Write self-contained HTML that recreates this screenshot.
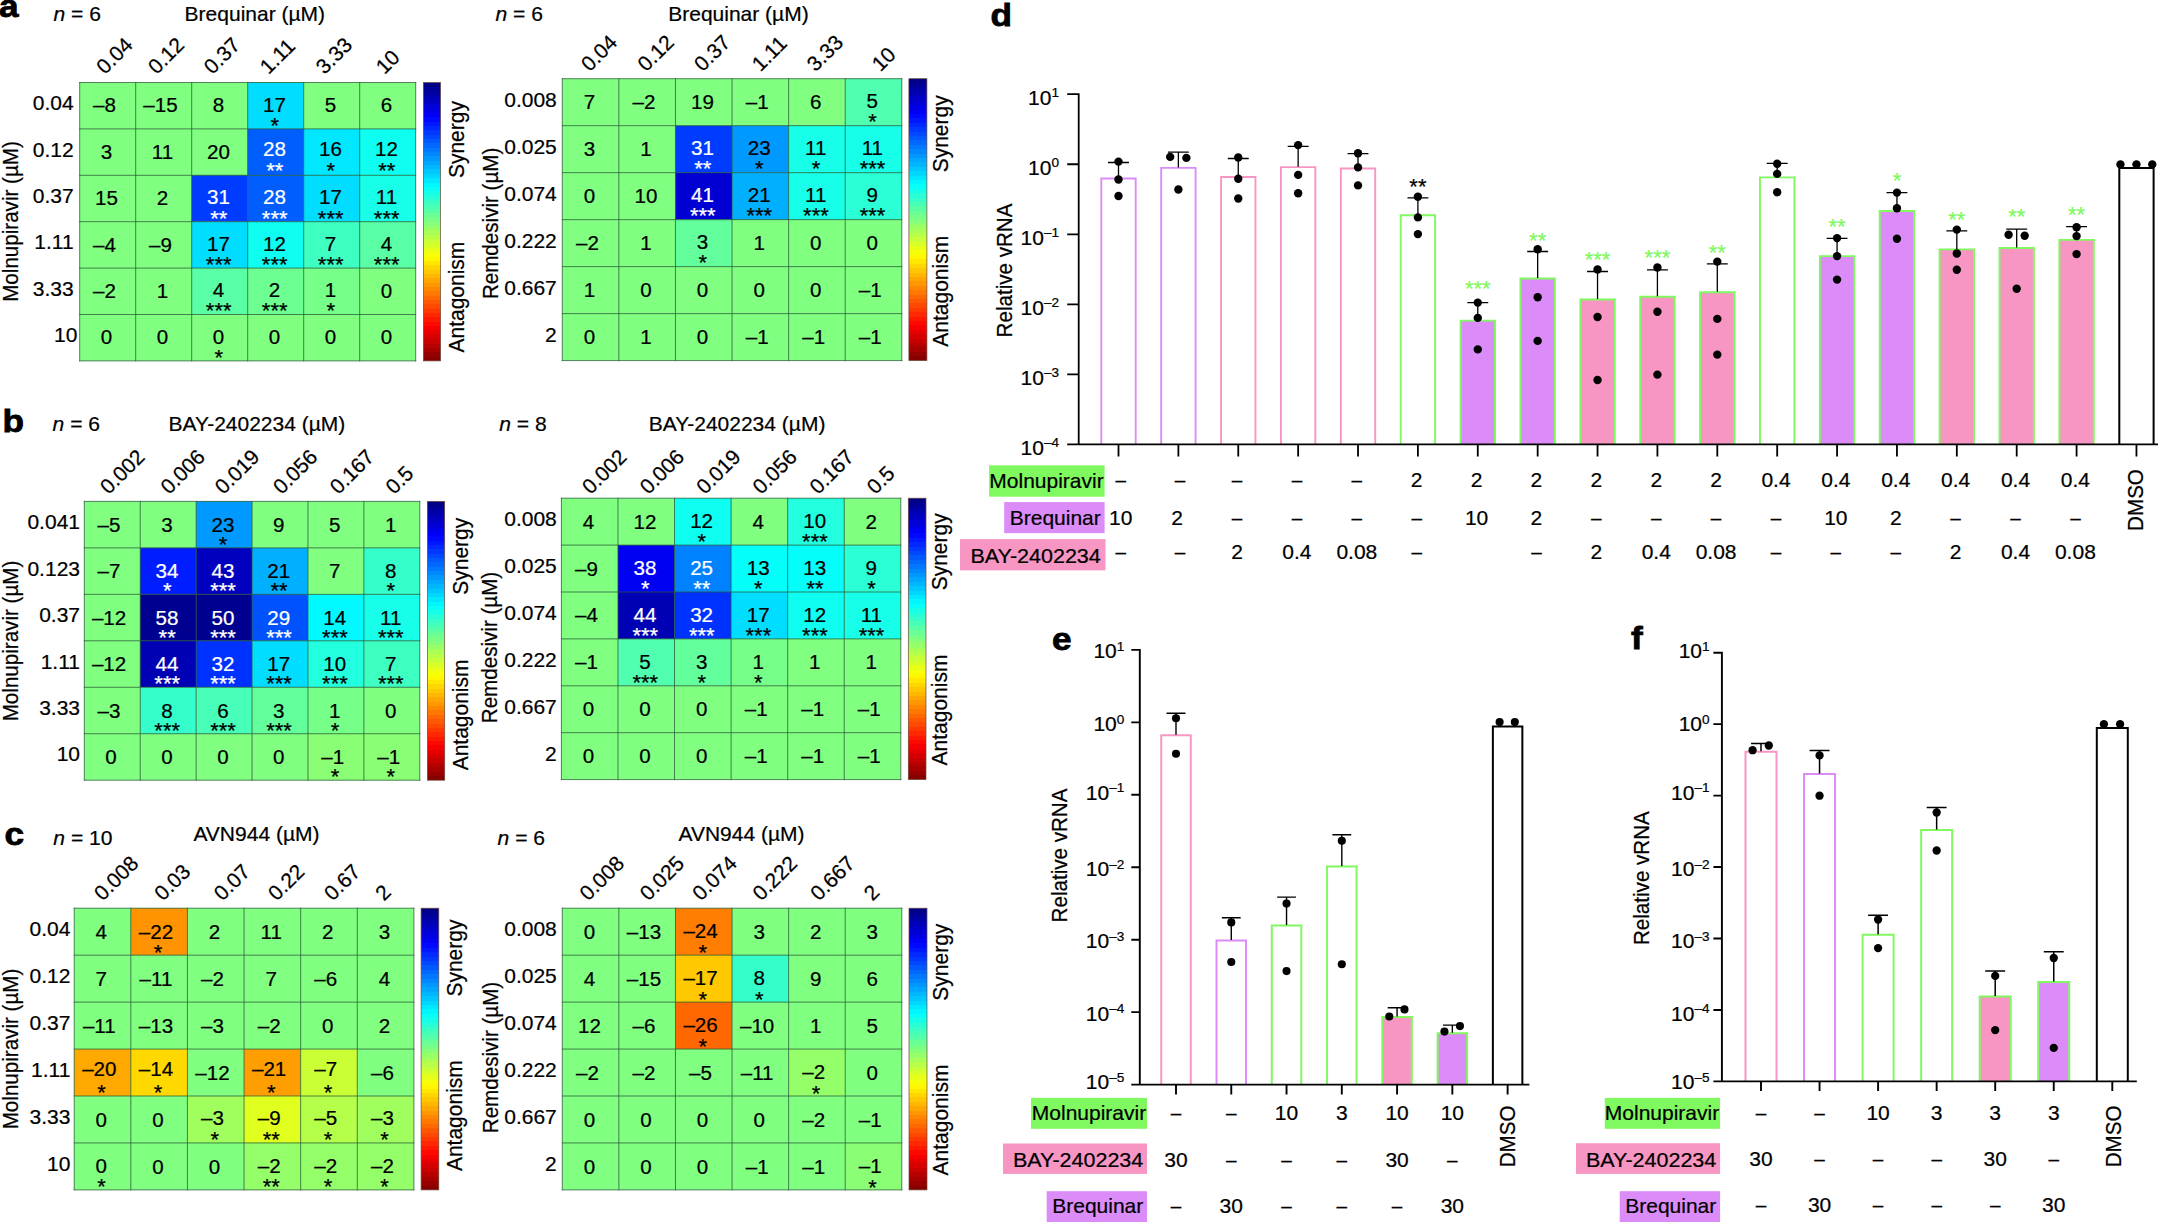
<!DOCTYPE html>
<html lang="en"><head><meta charset="utf-8"><title>Figure</title>
<style>html,body{margin:0;padding:0;background:#fff}svg{display:block}text{font-family:"Liberation Sans",sans-serif;stroke-width:0.22px}</style>
</head><body>
<svg width="2158" height="1222" viewBox="0 0 2158 1222">
<defs><linearGradient id="jet" x1="0" y1="0" x2="0" y2="1"><stop offset="0.0000" stop-color="#000087"/><stop offset="0.0156" stop-color="#000087"/><stop offset="0.0156" stop-color="#000097"/><stop offset="0.0312" stop-color="#000097"/><stop offset="0.0312" stop-color="#0000a7"/><stop offset="0.0469" stop-color="#0000a7"/><stop offset="0.0469" stop-color="#0000b7"/><stop offset="0.0625" stop-color="#0000b7"/><stop offset="0.0625" stop-color="#0000c7"/><stop offset="0.0781" stop-color="#0000c7"/><stop offset="0.0781" stop-color="#0000d7"/><stop offset="0.0938" stop-color="#0000d7"/><stop offset="0.0938" stop-color="#0000e7"/><stop offset="0.1094" stop-color="#0000e7"/><stop offset="0.1094" stop-color="#0000f7"/><stop offset="0.1250" stop-color="#0000f7"/><stop offset="0.1250" stop-color="#0008ff"/><stop offset="0.1406" stop-color="#0008ff"/><stop offset="0.1406" stop-color="#0018ff"/><stop offset="0.1562" stop-color="#0018ff"/><stop offset="0.1562" stop-color="#0028ff"/><stop offset="0.1719" stop-color="#0028ff"/><stop offset="0.1719" stop-color="#0038ff"/><stop offset="0.1875" stop-color="#0038ff"/><stop offset="0.1875" stop-color="#0048ff"/><stop offset="0.2031" stop-color="#0048ff"/><stop offset="0.2031" stop-color="#0058ff"/><stop offset="0.2188" stop-color="#0058ff"/><stop offset="0.2188" stop-color="#0068ff"/><stop offset="0.2344" stop-color="#0068ff"/><stop offset="0.2344" stop-color="#0078ff"/><stop offset="0.2500" stop-color="#0078ff"/><stop offset="0.2500" stop-color="#0087ff"/><stop offset="0.2656" stop-color="#0087ff"/><stop offset="0.2656" stop-color="#0097ff"/><stop offset="0.2812" stop-color="#0097ff"/><stop offset="0.2812" stop-color="#00a7ff"/><stop offset="0.2969" stop-color="#00a7ff"/><stop offset="0.2969" stop-color="#00b7ff"/><stop offset="0.3125" stop-color="#00b7ff"/><stop offset="0.3125" stop-color="#00c7ff"/><stop offset="0.3281" stop-color="#00c7ff"/><stop offset="0.3281" stop-color="#00d7ff"/><stop offset="0.3438" stop-color="#00d7ff"/><stop offset="0.3438" stop-color="#00e7ff"/><stop offset="0.3594" stop-color="#00e7ff"/><stop offset="0.3594" stop-color="#00f7ff"/><stop offset="0.3750" stop-color="#00f7ff"/><stop offset="0.3750" stop-color="#08fff7"/><stop offset="0.3906" stop-color="#08fff7"/><stop offset="0.3906" stop-color="#18ffe7"/><stop offset="0.4062" stop-color="#18ffe7"/><stop offset="0.4062" stop-color="#28ffd7"/><stop offset="0.4219" stop-color="#28ffd7"/><stop offset="0.4219" stop-color="#38ffc7"/><stop offset="0.4375" stop-color="#38ffc7"/><stop offset="0.4375" stop-color="#48ffb7"/><stop offset="0.4531" stop-color="#48ffb7"/><stop offset="0.4531" stop-color="#58ffa7"/><stop offset="0.4688" stop-color="#58ffa7"/><stop offset="0.4688" stop-color="#68ff97"/><stop offset="0.4844" stop-color="#68ff97"/><stop offset="0.4844" stop-color="#78ff87"/><stop offset="0.5000" stop-color="#78ff87"/><stop offset="0.5000" stop-color="#87ff78"/><stop offset="0.5156" stop-color="#87ff78"/><stop offset="0.5156" stop-color="#97ff68"/><stop offset="0.5312" stop-color="#97ff68"/><stop offset="0.5312" stop-color="#a7ff58"/><stop offset="0.5469" stop-color="#a7ff58"/><stop offset="0.5469" stop-color="#b7ff48"/><stop offset="0.5625" stop-color="#b7ff48"/><stop offset="0.5625" stop-color="#c7ff38"/><stop offset="0.5781" stop-color="#c7ff38"/><stop offset="0.5781" stop-color="#d7ff28"/><stop offset="0.5938" stop-color="#d7ff28"/><stop offset="0.5938" stop-color="#e7ff18"/><stop offset="0.6094" stop-color="#e7ff18"/><stop offset="0.6094" stop-color="#f7ff08"/><stop offset="0.6250" stop-color="#f7ff08"/><stop offset="0.6250" stop-color="#fff700"/><stop offset="0.6406" stop-color="#fff700"/><stop offset="0.6406" stop-color="#ffe700"/><stop offset="0.6562" stop-color="#ffe700"/><stop offset="0.6562" stop-color="#ffd700"/><stop offset="0.6719" stop-color="#ffd700"/><stop offset="0.6719" stop-color="#ffc700"/><stop offset="0.6875" stop-color="#ffc700"/><stop offset="0.6875" stop-color="#ffb700"/><stop offset="0.7031" stop-color="#ffb700"/><stop offset="0.7031" stop-color="#ffa700"/><stop offset="0.7188" stop-color="#ffa700"/><stop offset="0.7188" stop-color="#ff9700"/><stop offset="0.7344" stop-color="#ff9700"/><stop offset="0.7344" stop-color="#ff8700"/><stop offset="0.7500" stop-color="#ff8700"/><stop offset="0.7500" stop-color="#ff7800"/><stop offset="0.7656" stop-color="#ff7800"/><stop offset="0.7656" stop-color="#ff6800"/><stop offset="0.7812" stop-color="#ff6800"/><stop offset="0.7812" stop-color="#ff5800"/><stop offset="0.7969" stop-color="#ff5800"/><stop offset="0.7969" stop-color="#ff4800"/><stop offset="0.8125" stop-color="#ff4800"/><stop offset="0.8125" stop-color="#ff3800"/><stop offset="0.8281" stop-color="#ff3800"/><stop offset="0.8281" stop-color="#ff2800"/><stop offset="0.8438" stop-color="#ff2800"/><stop offset="0.8438" stop-color="#ff1800"/><stop offset="0.8594" stop-color="#ff1800"/><stop offset="0.8594" stop-color="#ff0800"/><stop offset="0.8750" stop-color="#ff0800"/><stop offset="0.8750" stop-color="#f70000"/><stop offset="0.8906" stop-color="#f70000"/><stop offset="0.8906" stop-color="#e70000"/><stop offset="0.9062" stop-color="#e70000"/><stop offset="0.9062" stop-color="#d70000"/><stop offset="0.9219" stop-color="#d70000"/><stop offset="0.9219" stop-color="#c70000"/><stop offset="0.9375" stop-color="#c70000"/><stop offset="0.9375" stop-color="#b70000"/><stop offset="0.9531" stop-color="#b70000"/><stop offset="0.9531" stop-color="#a70000"/><stop offset="0.9688" stop-color="#a70000"/><stop offset="0.9688" stop-color="#970000"/><stop offset="0.9844" stop-color="#970000"/><stop offset="0.9844" stop-color="#870000"/><stop offset="1.0000" stop-color="#870000"/></linearGradient></defs>
<rect width="2158" height="1222" fill="#fff"/>
<rect x="79.70" y="82.50" width="336.00" height="278.40" fill="#80ff80"/>
<rect x="247.70" y="82.50" width="56.00" height="46.40" fill="#00ddff"/>
<rect x="247.70" y="128.90" width="56.00" height="46.40" fill="#005eff"/>
<rect x="303.70" y="128.90" width="56.00" height="46.40" fill="#00e7ff"/>
<rect x="359.70" y="128.90" width="56.00" height="46.40" fill="#0efff1"/>
<rect x="191.70" y="175.30" width="56.00" height="46.40" fill="#003cff"/>
<rect x="247.70" y="175.30" width="56.00" height="46.40" fill="#005eff"/>
<rect x="303.70" y="175.30" width="56.00" height="46.40" fill="#00ddff"/>
<rect x="359.70" y="175.30" width="56.00" height="46.40" fill="#17ffe8"/>
<rect x="191.70" y="221.70" width="56.00" height="46.40" fill="#00ddff"/>
<rect x="247.70" y="221.70" width="56.00" height="46.40" fill="#0efff1"/>
<rect x="303.70" y="221.70" width="56.00" height="46.40" fill="#3dffc2"/>
<rect x="359.70" y="221.70" width="56.00" height="46.40" fill="#5affa5"/>
<rect x="191.70" y="268.10" width="56.00" height="46.40" fill="#5affa5"/>
<rect x="247.70" y="268.10" width="56.00" height="46.40" fill="#6dff92"/>
<rect x="303.70" y="268.10" width="56.00" height="46.40" fill="#76ff89"/>
<rect x="191.70" y="314.50" width="56.00" height="46.40" fill="#80ff80"/>
<path d="M79.70 82.50V360.90M79.70 82.50H415.70M135.70 82.50V360.90M79.70 128.90H415.70M191.70 82.50V360.90M79.70 175.30H415.70M247.70 82.50V360.90M79.70 221.70H415.70M303.70 82.50V360.90M79.70 268.10H415.70M359.70 82.50V360.90M79.70 314.50H415.70M415.70 82.50V360.90M79.70 360.90H415.70" stroke="#2c5a3a" stroke-width="0.9" fill="none" stroke-linecap="square" opacity="0.85"/>
<text transform="translate(104.50 112.30) scale(0.98 1.0)" font-size="21.0" text-anchor="middle" stroke="#000">–8</text>
<text transform="translate(160.50 112.30) scale(0.98 1.0)" font-size="21.0" text-anchor="middle" stroke="#000">–15</text>
<text transform="translate(218.50 112.30) scale(0.98 1.0)" font-size="21.0" text-anchor="middle" stroke="#000">8</text>
<text transform="translate(274.50 111.50) scale(0.98 1.0)" font-size="21.0" text-anchor="middle" stroke="#000">17</text>
<text transform="translate(274.70 132.80)" font-size="22.0" text-anchor="middle" stroke="#000">*</text>
<text transform="translate(330.50 112.30) scale(0.98 1.0)" font-size="21.0" text-anchor="middle" stroke="#000">5</text>
<text transform="translate(386.50 112.30) scale(0.98 1.0)" font-size="21.0" text-anchor="middle" stroke="#000">6</text>
<text transform="translate(106.50 158.70) scale(0.98 1.0)" font-size="21.0" text-anchor="middle" stroke="#000">3</text>
<text transform="translate(162.50 158.70) scale(0.98 1.0)" font-size="21.0" text-anchor="middle" stroke="#000">11</text>
<text transform="translate(218.50 158.70) scale(0.98 1.0)" font-size="21.0" text-anchor="middle" stroke="#000">20</text>
<text transform="translate(274.50 155.90) scale(0.98 1.0)" font-size="21.0" text-anchor="middle" fill="#fff" stroke="#fff">28</text>
<text transform="translate(274.70 178.40)" font-size="22.0" text-anchor="middle" fill="#fff" stroke="#fff">**</text>
<text transform="translate(330.50 155.90) scale(0.98 1.0)" font-size="21.0" text-anchor="middle" stroke="#000">16</text>
<text transform="translate(330.70 178.40)" font-size="22.0" text-anchor="middle" stroke="#000">*</text>
<text transform="translate(386.50 155.90) scale(0.98 1.0)" font-size="21.0" text-anchor="middle" stroke="#000">12</text>
<text transform="translate(386.70 178.40)" font-size="22.0" text-anchor="middle" stroke="#000">**</text>
<text transform="translate(106.50 205.10) scale(0.98 1.0)" font-size="21.0" text-anchor="middle" stroke="#000">15</text>
<text transform="translate(162.50 205.10) scale(0.98 1.0)" font-size="21.0" text-anchor="middle" stroke="#000">2</text>
<text transform="translate(218.50 204.30) scale(0.98 1.0)" font-size="21.0" text-anchor="middle" fill="#fff" stroke="#fff">31</text>
<text transform="translate(218.70 225.60)" font-size="22.0" text-anchor="middle" fill="#fff" stroke="#fff">**</text>
<text transform="translate(274.50 204.30) scale(0.98 1.0)" font-size="21.0" text-anchor="middle" fill="#fff" stroke="#fff">28</text>
<text transform="translate(274.70 225.60)" font-size="22.0" text-anchor="middle" fill="#fff" stroke="#fff">***</text>
<text transform="translate(330.50 204.30) scale(0.98 1.0)" font-size="21.0" text-anchor="middle" stroke="#000">17</text>
<text transform="translate(330.70 225.60)" font-size="22.0" text-anchor="middle" stroke="#000">***</text>
<text transform="translate(386.50 204.30) scale(0.98 1.0)" font-size="21.0" text-anchor="middle" stroke="#000">11</text>
<text transform="translate(386.70 225.60)" font-size="22.0" text-anchor="middle" stroke="#000">***</text>
<text transform="translate(104.50 251.50) scale(0.98 1.0)" font-size="21.0" text-anchor="middle" stroke="#000">–4</text>
<text transform="translate(160.50 251.50) scale(0.98 1.0)" font-size="21.0" text-anchor="middle" stroke="#000">–9</text>
<text transform="translate(218.50 250.70) scale(0.98 1.0)" font-size="21.0" text-anchor="middle" stroke="#000">17</text>
<text transform="translate(218.70 272.00)" font-size="22.0" text-anchor="middle" stroke="#000">***</text>
<text transform="translate(274.50 250.70) scale(0.98 1.0)" font-size="21.0" text-anchor="middle" stroke="#000">12</text>
<text transform="translate(274.70 272.00)" font-size="22.0" text-anchor="middle" stroke="#000">***</text>
<text transform="translate(330.50 250.70) scale(0.98 1.0)" font-size="21.0" text-anchor="middle" stroke="#000">7</text>
<text transform="translate(330.70 272.00)" font-size="22.0" text-anchor="middle" stroke="#000">***</text>
<text transform="translate(386.50 250.70) scale(0.98 1.0)" font-size="21.0" text-anchor="middle" stroke="#000">4</text>
<text transform="translate(386.70 272.00)" font-size="22.0" text-anchor="middle" stroke="#000">***</text>
<text transform="translate(104.50 297.90) scale(0.98 1.0)" font-size="21.0" text-anchor="middle" stroke="#000">–2</text>
<text transform="translate(162.50 297.90) scale(0.98 1.0)" font-size="21.0" text-anchor="middle" stroke="#000">1</text>
<text transform="translate(218.50 297.10) scale(0.98 1.0)" font-size="21.0" text-anchor="middle" stroke="#000">4</text>
<text transform="translate(218.70 318.40)" font-size="22.0" text-anchor="middle" stroke="#000">***</text>
<text transform="translate(274.50 297.10) scale(0.98 1.0)" font-size="21.0" text-anchor="middle" stroke="#000">2</text>
<text transform="translate(274.70 318.40)" font-size="22.0" text-anchor="middle" stroke="#000">***</text>
<text transform="translate(330.50 297.10) scale(0.98 1.0)" font-size="21.0" text-anchor="middle" stroke="#000">1</text>
<text transform="translate(330.70 318.40)" font-size="22.0" text-anchor="middle" stroke="#000">*</text>
<text transform="translate(386.50 297.90) scale(0.98 1.0)" font-size="21.0" text-anchor="middle" stroke="#000">0</text>
<text transform="translate(106.50 344.30) scale(0.98 1.0)" font-size="21.0" text-anchor="middle" stroke="#000">0</text>
<text transform="translate(162.50 344.30) scale(0.98 1.0)" font-size="21.0" text-anchor="middle" stroke="#000">0</text>
<text transform="translate(218.50 343.50) scale(0.98 1.0)" font-size="21.0" text-anchor="middle" stroke="#000">0</text>
<text transform="translate(218.70 364.80)" font-size="22.0" text-anchor="middle" stroke="#000">*</text>
<text transform="translate(274.50 344.30) scale(0.98 1.0)" font-size="21.0" text-anchor="middle" stroke="#000">0</text>
<text transform="translate(330.50 344.30) scale(0.98 1.0)" font-size="21.0" text-anchor="middle" stroke="#000">0</text>
<text transform="translate(386.50 344.30) scale(0.98 1.0)" font-size="21.0" text-anchor="middle" stroke="#000">0</text>
<text transform="translate(73.60 110.20)" font-size="21.0" text-anchor="end" stroke="#000">0.04</text>
<text transform="translate(73.60 156.60)" font-size="21.0" text-anchor="end" stroke="#000">0.12</text>
<text transform="translate(73.60 203.00)" font-size="21.0" text-anchor="end" stroke="#000">0.37</text>
<text transform="translate(73.60 249.40)" font-size="21.0" text-anchor="end" stroke="#000">1.11</text>
<text transform="translate(73.60 295.80)" font-size="21.0" text-anchor="end" stroke="#000">3.33</text>
<text transform="translate(77.40 342.20)" font-size="21.0" text-anchor="end" stroke="#000">10</text>
<text transform="translate(105.10 75.20) rotate(-45)" font-size="21.0" stroke="#000">0.04</text>
<text transform="translate(156.70 75.20) rotate(-45)" font-size="21.0" stroke="#000">0.12</text>
<text transform="translate(212.60 75.20) rotate(-45)" font-size="21.0" stroke="#000">0.37</text>
<text transform="translate(268.60 75.20) rotate(-45)" font-size="21.0" stroke="#000">1.11</text>
<text transform="translate(324.50 75.20) rotate(-45)" font-size="21.0" stroke="#000">3.33</text>
<text transform="translate(384.60 75.20) rotate(-45)" font-size="21.0" stroke="#000">10</text>
<text transform="translate(53.40 20.80) " font-size="21.1" stroke="#000"><tspan font-style="italic">n</tspan> = 6</text>
<text transform="translate(184.60 20.80)" font-size="21.0" stroke="#000">Brequinar (µM)</text>
<text transform="translate(18.30 221.50) rotate(-90) scale(1.0 1.1)" font-size="20.6" text-anchor="middle" stroke="#000">Molnupiravir (µM)</text>
<rect x="423.40" y="82.50" width="17.20" height="278.40" fill="url(#jet)" stroke="#6b4a3a" stroke-width="0.7"/>
<text transform="translate(463.50 139.55) rotate(-90) scale(1.0 1.08)" font-size="21.0" text-anchor="middle" stroke="#000">Synergy</text>
<text transform="translate(463.50 297.10) rotate(-90) scale(1.0 1.08)" font-size="21.0" text-anchor="middle" stroke="#000">Antagonism</text>
<rect x="562.30" y="78.70" width="339.50" height="281.90" fill="#80ff80"/>
<rect x="845.22" y="78.70" width="56.58" height="46.98" fill="#50ffaf"/>
<rect x="675.47" y="125.68" width="56.58" height="46.98" fill="#003cff"/>
<rect x="732.05" y="125.68" width="56.58" height="46.98" fill="#0099ff"/>
<rect x="788.63" y="125.68" width="56.58" height="46.98" fill="#17ffe8"/>
<rect x="845.22" y="125.68" width="56.58" height="46.98" fill="#17ffe8"/>
<rect x="675.47" y="172.67" width="56.58" height="46.98" fill="#0000d3"/>
<rect x="732.05" y="172.67" width="56.58" height="46.98" fill="#00b0ff"/>
<rect x="788.63" y="172.67" width="56.58" height="46.98" fill="#17ffe8"/>
<rect x="845.22" y="172.67" width="56.58" height="46.98" fill="#2affd5"/>
<rect x="675.47" y="219.65" width="56.58" height="46.98" fill="#63ff9c"/>
<path d="M562.30 78.70V360.60M562.30 78.70H901.80M618.88 78.70V360.60M562.30 125.68H901.80M675.47 78.70V360.60M562.30 172.67H901.80M732.05 78.70V360.60M562.30 219.65H901.80M788.63 78.70V360.60M562.30 266.63H901.80M845.22 78.70V360.60M562.30 313.62H901.80M901.80 78.70V360.60M562.30 360.60H901.80" stroke="#2c5a3a" stroke-width="0.9" fill="none" stroke-linecap="square" opacity="0.85"/>
<text transform="translate(589.39 109.09) scale(0.98 1.0)" font-size="21.0" text-anchor="middle" stroke="#000">7</text>
<text transform="translate(643.97 109.09) scale(0.98 1.0)" font-size="21.0" text-anchor="middle" stroke="#000">–2</text>
<text transform="translate(702.56 109.09) scale(0.98 1.0)" font-size="21.0" text-anchor="middle" stroke="#000">19</text>
<text transform="translate(757.14 109.09) scale(0.98 1.0)" font-size="21.0" text-anchor="middle" stroke="#000">–1</text>
<text transform="translate(815.72 109.09) scale(0.98 1.0)" font-size="21.0" text-anchor="middle" stroke="#000">6</text>
<text transform="translate(872.31 107.99) scale(0.98 1.0)" font-size="21.0" text-anchor="middle" stroke="#000">5</text>
<text transform="translate(872.51 129.29)" font-size="22.0" text-anchor="middle" stroke="#000">*</text>
<text transform="translate(589.39 156.08) scale(0.98 1.0)" font-size="21.0" text-anchor="middle" stroke="#000">3</text>
<text transform="translate(645.97 156.08) scale(0.98 1.0)" font-size="21.0" text-anchor="middle" stroke="#000">1</text>
<text transform="translate(702.56 154.98) scale(0.98 1.0)" font-size="21.0" text-anchor="middle" fill="#fff" stroke="#fff">31</text>
<text transform="translate(702.76 176.28)" font-size="22.0" text-anchor="middle" fill="#fff" stroke="#fff">**</text>
<text transform="translate(759.14 154.98) scale(0.98 1.0)" font-size="21.0" text-anchor="middle" stroke="#000">23</text>
<text transform="translate(759.34 176.28)" font-size="22.0" text-anchor="middle" stroke="#000">*</text>
<text transform="translate(815.72 154.98) scale(0.98 1.0)" font-size="21.0" text-anchor="middle" stroke="#000">11</text>
<text transform="translate(815.92 176.28)" font-size="22.0" text-anchor="middle" stroke="#000">*</text>
<text transform="translate(872.31 154.98) scale(0.98 1.0)" font-size="21.0" text-anchor="middle" stroke="#000">11</text>
<text transform="translate(872.51 176.28)" font-size="22.0" text-anchor="middle" stroke="#000">***</text>
<text transform="translate(589.39 203.06) scale(0.98 1.0)" font-size="21.0" text-anchor="middle" stroke="#000">0</text>
<text transform="translate(645.97 203.06) scale(0.98 1.0)" font-size="21.0" text-anchor="middle" stroke="#000">10</text>
<text transform="translate(702.56 201.96) scale(0.98 1.0)" font-size="21.0" text-anchor="middle" fill="#fff" stroke="#fff">41</text>
<text transform="translate(702.76 223.26)" font-size="22.0" text-anchor="middle" fill="#fff" stroke="#fff">***</text>
<text transform="translate(759.14 201.96) scale(0.98 1.0)" font-size="21.0" text-anchor="middle" stroke="#000">21</text>
<text transform="translate(759.34 223.26)" font-size="22.0" text-anchor="middle" stroke="#000">***</text>
<text transform="translate(815.72 201.96) scale(0.98 1.0)" font-size="21.0" text-anchor="middle" stroke="#000">11</text>
<text transform="translate(815.92 223.26)" font-size="22.0" text-anchor="middle" stroke="#000">***</text>
<text transform="translate(872.31 201.96) scale(0.98 1.0)" font-size="21.0" text-anchor="middle" stroke="#000">9</text>
<text transform="translate(872.51 223.26)" font-size="22.0" text-anchor="middle" stroke="#000">***</text>
<text transform="translate(587.39 250.04) scale(0.98 1.0)" font-size="21.0" text-anchor="middle" stroke="#000">–2</text>
<text transform="translate(645.97 250.04) scale(0.98 1.0)" font-size="21.0" text-anchor="middle" stroke="#000">1</text>
<text transform="translate(702.56 248.94) scale(0.98 1.0)" font-size="21.0" text-anchor="middle" stroke="#000">3</text>
<text transform="translate(702.76 270.24)" font-size="22.0" text-anchor="middle" stroke="#000">*</text>
<text transform="translate(759.14 250.04) scale(0.98 1.0)" font-size="21.0" text-anchor="middle" stroke="#000">1</text>
<text transform="translate(815.72 250.04) scale(0.98 1.0)" font-size="21.0" text-anchor="middle" stroke="#000">0</text>
<text transform="translate(872.31 250.04) scale(0.98 1.0)" font-size="21.0" text-anchor="middle" stroke="#000">0</text>
<text transform="translate(589.39 297.03) scale(0.98 1.0)" font-size="21.0" text-anchor="middle" stroke="#000">1</text>
<text transform="translate(645.97 297.03) scale(0.98 1.0)" font-size="21.0" text-anchor="middle" stroke="#000">0</text>
<text transform="translate(702.56 297.03) scale(0.98 1.0)" font-size="21.0" text-anchor="middle" stroke="#000">0</text>
<text transform="translate(759.14 297.03) scale(0.98 1.0)" font-size="21.0" text-anchor="middle" stroke="#000">0</text>
<text transform="translate(815.72 297.03) scale(0.98 1.0)" font-size="21.0" text-anchor="middle" stroke="#000">0</text>
<text transform="translate(870.31 297.03) scale(0.98 1.0)" font-size="21.0" text-anchor="middle" stroke="#000">–1</text>
<text transform="translate(589.39 344.01) scale(0.98 1.0)" font-size="21.0" text-anchor="middle" stroke="#000">0</text>
<text transform="translate(645.97 344.01) scale(0.98 1.0)" font-size="21.0" text-anchor="middle" stroke="#000">1</text>
<text transform="translate(702.56 344.01) scale(0.98 1.0)" font-size="21.0" text-anchor="middle" stroke="#000">0</text>
<text transform="translate(757.14 344.01) scale(0.98 1.0)" font-size="21.0" text-anchor="middle" stroke="#000">–1</text>
<text transform="translate(813.72 344.01) scale(0.98 1.0)" font-size="21.0" text-anchor="middle" stroke="#000">–1</text>
<text transform="translate(870.31 344.01) scale(0.98 1.0)" font-size="21.0" text-anchor="middle" stroke="#000">–1</text>
<text transform="translate(556.80 106.69)" font-size="21.0" text-anchor="end" stroke="#000">0.008</text>
<text transform="translate(556.80 153.68)" font-size="21.0" text-anchor="end" stroke="#000">0.025</text>
<text transform="translate(556.80 200.66)" font-size="21.0" text-anchor="end" stroke="#000">0.074</text>
<text transform="translate(556.80 247.64)" font-size="21.0" text-anchor="end" stroke="#000">0.222</text>
<text transform="translate(556.80 294.63)" font-size="21.0" text-anchor="end" stroke="#000">0.667</text>
<text transform="translate(556.80 341.61)" font-size="21.0" text-anchor="end" stroke="#000">2</text>
<text transform="translate(589.69 72.60) rotate(-45)" font-size="21.0" stroke="#000">0.04</text>
<text transform="translate(646.27 72.60) rotate(-45)" font-size="21.0" stroke="#000">0.12</text>
<text transform="translate(702.86 72.60) rotate(-45)" font-size="21.0" stroke="#000">0.37</text>
<text transform="translate(760.44 72.60) rotate(-45)" font-size="21.0" stroke="#000">1.11</text>
<text transform="translate(815.52 72.60) rotate(-45)" font-size="21.0" stroke="#000">3.33</text>
<text transform="translate(880.61 72.60) rotate(-45)" font-size="21.0" stroke="#000">10</text>
<text transform="translate(495.50 20.70) " font-size="21.1" stroke="#000"><tspan font-style="italic">n</tspan> = 6</text>
<text transform="translate(668.20 20.70)" font-size="21.0" stroke="#000">Brequinar (µM)</text>
<text transform="translate(497.50 223.40) rotate(-90) scale(1.0 1.1)" font-size="20.6" text-anchor="middle" stroke="#000">Remdesivir (µM)</text>
<rect x="908.90" y="78.70" width="18.00" height="281.90" fill="url(#jet)" stroke="#6b4a3a" stroke-width="0.7"/>
<text transform="translate(947.90 133.85) rotate(-90) scale(1.0 1.08)" font-size="21.0" text-anchor="middle" stroke="#000">Synergy</text>
<text transform="translate(947.90 291.25) rotate(-90) scale(1.0 1.08)" font-size="21.0" text-anchor="middle" stroke="#000">Antagonism</text>
<rect x="84.30" y="501.40" width="335.50" height="278.80" fill="#80ff80"/>
<rect x="196.13" y="501.40" width="55.92" height="46.47" fill="#0099ff"/>
<rect x="140.22" y="547.87" width="55.92" height="46.47" fill="#001dff"/>
<rect x="196.13" y="547.87" width="55.92" height="46.47" fill="#0000be"/>
<rect x="252.05" y="547.87" width="55.92" height="46.47" fill="#00b0ff"/>
<rect x="363.88" y="547.87" width="55.92" height="46.47" fill="#34ffcb"/>
<rect x="140.22" y="594.33" width="55.92" height="46.47" fill="#000090"/>
<rect x="196.13" y="594.33" width="55.92" height="46.47" fill="#000090"/>
<rect x="252.05" y="594.33" width="55.92" height="46.47" fill="#0052ff"/>
<rect x="307.97" y="594.33" width="55.92" height="46.47" fill="#00faff"/>
<rect x="363.88" y="594.33" width="55.92" height="46.47" fill="#17ffe8"/>
<rect x="140.22" y="640.80" width="55.92" height="46.47" fill="#0000b4"/>
<rect x="196.13" y="640.80" width="55.92" height="46.47" fill="#0032ff"/>
<rect x="252.05" y="640.80" width="55.92" height="46.47" fill="#00ddff"/>
<rect x="307.97" y="640.80" width="55.92" height="46.47" fill="#21ffde"/>
<rect x="363.88" y="640.80" width="55.92" height="46.47" fill="#3dffc2"/>
<rect x="140.22" y="687.27" width="55.92" height="46.47" fill="#34ffcb"/>
<rect x="196.13" y="687.27" width="55.92" height="46.47" fill="#47ffb8"/>
<rect x="252.05" y="687.27" width="55.92" height="46.47" fill="#63ff9c"/>
<rect x="307.97" y="687.27" width="55.92" height="46.47" fill="#76ff89"/>
<rect x="307.97" y="733.73" width="55.92" height="46.47" fill="#8aff75"/>
<rect x="363.88" y="733.73" width="55.92" height="46.47" fill="#8aff75"/>
<path d="M84.30 501.40V780.20M84.30 501.40H419.80M140.22 501.40V780.20M84.30 547.87H419.80M196.13 501.40V780.20M84.30 594.33H419.80M252.05 501.40V780.20M84.30 640.80H419.80M307.97 501.40V780.20M84.30 687.27H419.80M363.88 501.40V780.20M84.30 733.73H419.80M419.80 501.40V780.20M84.30 780.20H419.80" stroke="#2c5a3a" stroke-width="0.9" fill="none" stroke-linecap="square" opacity="0.85"/>
<text transform="translate(109.06 531.73) scale(0.98 1.0)" font-size="21.0" text-anchor="middle" stroke="#000">–5</text>
<text transform="translate(166.98 531.73) scale(0.98 1.0)" font-size="21.0" text-anchor="middle" stroke="#000">3</text>
<text transform="translate(222.89 531.63) scale(0.98 1.0)" font-size="21.0" text-anchor="middle" stroke="#000">23</text>
<text transform="translate(223.09 551.63)" font-size="22.0" text-anchor="middle" stroke="#000">*</text>
<text transform="translate(278.81 531.73) scale(0.98 1.0)" font-size="21.0" text-anchor="middle" stroke="#000">9</text>
<text transform="translate(334.73 531.73) scale(0.98 1.0)" font-size="21.0" text-anchor="middle" stroke="#000">5</text>
<text transform="translate(390.64 531.73) scale(0.98 1.0)" font-size="21.0" text-anchor="middle" stroke="#000">1</text>
<text transform="translate(109.06 578.20) scale(0.98 1.0)" font-size="21.0" text-anchor="middle" stroke="#000">–7</text>
<text transform="translate(166.98 578.10) scale(0.98 1.0)" font-size="21.0" text-anchor="middle" fill="#fff" stroke="#fff">34</text>
<text transform="translate(167.18 598.10)" font-size="22.0" text-anchor="middle" fill="#fff" stroke="#fff">*</text>
<text transform="translate(222.89 578.10) scale(0.98 1.0)" font-size="21.0" text-anchor="middle" fill="#fff" stroke="#fff">43</text>
<text transform="translate(223.09 598.10)" font-size="22.0" text-anchor="middle" fill="#fff" stroke="#fff">***</text>
<text transform="translate(278.81 578.10) scale(0.98 1.0)" font-size="21.0" text-anchor="middle" stroke="#000">21</text>
<text transform="translate(279.01 598.10)" font-size="22.0" text-anchor="middle" stroke="#000">**</text>
<text transform="translate(334.73 578.20) scale(0.98 1.0)" font-size="21.0" text-anchor="middle" stroke="#000">7</text>
<text transform="translate(390.64 578.10) scale(0.98 1.0)" font-size="21.0" text-anchor="middle" stroke="#000">8</text>
<text transform="translate(390.84 598.10)" font-size="22.0" text-anchor="middle" stroke="#000">*</text>
<text transform="translate(109.06 624.67) scale(0.98 1.0)" font-size="21.0" text-anchor="middle" stroke="#000">–12</text>
<text transform="translate(166.98 624.57) scale(0.98 1.0)" font-size="21.0" text-anchor="middle" fill="#fff" stroke="#fff">58</text>
<text transform="translate(167.18 644.57)" font-size="22.0" text-anchor="middle" fill="#fff" stroke="#fff">**</text>
<text transform="translate(222.89 624.57) scale(0.98 1.0)" font-size="21.0" text-anchor="middle" fill="#fff" stroke="#fff">50</text>
<text transform="translate(223.09 644.57)" font-size="22.0" text-anchor="middle" fill="#fff" stroke="#fff">***</text>
<text transform="translate(278.81 624.57) scale(0.98 1.0)" font-size="21.0" text-anchor="middle" fill="#fff" stroke="#fff">29</text>
<text transform="translate(279.01 644.57)" font-size="22.0" text-anchor="middle" fill="#fff" stroke="#fff">***</text>
<text transform="translate(334.73 624.57) scale(0.98 1.0)" font-size="21.0" text-anchor="middle" stroke="#000">14</text>
<text transform="translate(334.93 644.57)" font-size="22.0" text-anchor="middle" stroke="#000">***</text>
<text transform="translate(390.64 624.57) scale(0.98 1.0)" font-size="21.0" text-anchor="middle" stroke="#000">11</text>
<text transform="translate(390.84 644.57)" font-size="22.0" text-anchor="middle" stroke="#000">***</text>
<text transform="translate(109.06 671.13) scale(0.98 1.0)" font-size="21.0" text-anchor="middle" stroke="#000">–12</text>
<text transform="translate(166.98 671.03) scale(0.98 1.0)" font-size="21.0" text-anchor="middle" fill="#fff" stroke="#fff">44</text>
<text transform="translate(167.18 691.03)" font-size="22.0" text-anchor="middle" fill="#fff" stroke="#fff">***</text>
<text transform="translate(222.89 671.03) scale(0.98 1.0)" font-size="21.0" text-anchor="middle" fill="#fff" stroke="#fff">32</text>
<text transform="translate(223.09 691.03)" font-size="22.0" text-anchor="middle" fill="#fff" stroke="#fff">***</text>
<text transform="translate(278.81 671.03) scale(0.98 1.0)" font-size="21.0" text-anchor="middle" stroke="#000">17</text>
<text transform="translate(279.01 691.03)" font-size="22.0" text-anchor="middle" stroke="#000">***</text>
<text transform="translate(334.73 671.03) scale(0.98 1.0)" font-size="21.0" text-anchor="middle" stroke="#000">10</text>
<text transform="translate(334.93 691.03)" font-size="22.0" text-anchor="middle" stroke="#000">***</text>
<text transform="translate(390.64 671.03) scale(0.98 1.0)" font-size="21.0" text-anchor="middle" stroke="#000">7</text>
<text transform="translate(390.84 691.03)" font-size="22.0" text-anchor="middle" stroke="#000">***</text>
<text transform="translate(109.06 717.60) scale(0.98 1.0)" font-size="21.0" text-anchor="middle" stroke="#000">–3</text>
<text transform="translate(166.98 717.50) scale(0.98 1.0)" font-size="21.0" text-anchor="middle" stroke="#000">8</text>
<text transform="translate(167.18 737.50)" font-size="22.0" text-anchor="middle" stroke="#000">***</text>
<text transform="translate(222.89 717.50) scale(0.98 1.0)" font-size="21.0" text-anchor="middle" stroke="#000">6</text>
<text transform="translate(223.09 737.50)" font-size="22.0" text-anchor="middle" stroke="#000">***</text>
<text transform="translate(278.81 717.50) scale(0.98 1.0)" font-size="21.0" text-anchor="middle" stroke="#000">3</text>
<text transform="translate(279.01 737.50)" font-size="22.0" text-anchor="middle" stroke="#000">***</text>
<text transform="translate(334.73 717.50) scale(0.98 1.0)" font-size="21.0" text-anchor="middle" stroke="#000">1</text>
<text transform="translate(334.93 737.50)" font-size="22.0" text-anchor="middle" stroke="#000">*</text>
<text transform="translate(390.64 717.60) scale(0.98 1.0)" font-size="21.0" text-anchor="middle" stroke="#000">0</text>
<text transform="translate(111.06 764.07) scale(0.98 1.0)" font-size="21.0" text-anchor="middle" stroke="#000">0</text>
<text transform="translate(166.98 764.07) scale(0.98 1.0)" font-size="21.0" text-anchor="middle" stroke="#000">0</text>
<text transform="translate(222.89 764.07) scale(0.98 1.0)" font-size="21.0" text-anchor="middle" stroke="#000">0</text>
<text transform="translate(278.81 764.07) scale(0.98 1.0)" font-size="21.0" text-anchor="middle" stroke="#000">0</text>
<text transform="translate(332.73 763.97) scale(0.98 1.0)" font-size="21.0" text-anchor="middle" stroke="#000">–1</text>
<text transform="translate(334.93 783.97)" font-size="22.0" text-anchor="middle" stroke="#000">*</text>
<text transform="translate(388.64 763.97) scale(0.98 1.0)" font-size="21.0" text-anchor="middle" stroke="#000">–1</text>
<text transform="translate(390.84 783.97)" font-size="22.0" text-anchor="middle" stroke="#000">*</text>
<text transform="translate(80.00 529.13)" font-size="21.0" text-anchor="end" stroke="#000">0.041</text>
<text transform="translate(80.00 575.60)" font-size="21.0" text-anchor="end" stroke="#000">0.123</text>
<text transform="translate(80.00 622.07)" font-size="21.0" text-anchor="end" stroke="#000">0.37</text>
<text transform="translate(80.00 668.53)" font-size="21.0" text-anchor="end" stroke="#000">1.11</text>
<text transform="translate(80.00 715.00)" font-size="21.0" text-anchor="end" stroke="#000">3.33</text>
<text transform="translate(80.00 761.47)" font-size="21.0" text-anchor="end" stroke="#000">10</text>
<text transform="translate(108.86 495.30) rotate(-45)" font-size="21.0" stroke="#000">0.002</text>
<text transform="translate(169.18 495.30) rotate(-45)" font-size="21.0" stroke="#000">0.006</text>
<text transform="translate(223.59 495.30) rotate(-45)" font-size="21.0" stroke="#000">0.019</text>
<text transform="translate(281.71 495.30) rotate(-45)" font-size="21.0" stroke="#000">0.056</text>
<text transform="translate(338.43 495.30) rotate(-45)" font-size="21.0" stroke="#000">0.167</text>
<text transform="translate(394.14 495.30) rotate(-45)" font-size="21.0" stroke="#000">0.5</text>
<text transform="translate(52.60 430.70) " font-size="21.1" stroke="#000"><tspan font-style="italic">n</tspan> = 6</text>
<text transform="translate(168.60 430.70)" font-size="21.0" stroke="#000">BAY-2402234 (µM)</text>
<text transform="translate(18.30 641.00) rotate(-90) scale(1.0 1.1)" font-size="20.6" text-anchor="middle" stroke="#000">Molnupiravir (µM)</text>
<rect x="427.40" y="501.40" width="17.30" height="278.80" fill="url(#jet)" stroke="#6b4a3a" stroke-width="0.7"/>
<text transform="translate(467.90 556.25) rotate(-90) scale(1.0 1.08)" font-size="21.0" text-anchor="middle" stroke="#000">Synergy</text>
<text transform="translate(467.90 714.95) rotate(-90) scale(1.0 1.08)" font-size="21.0" text-anchor="middle" stroke="#000">Antagonism</text>
<rect x="561.40" y="498.20" width="339.40" height="281.40" fill="#80ff80"/>
<rect x="674.53" y="498.20" width="56.57" height="46.90" fill="#0efff1"/>
<rect x="787.67" y="498.20" width="56.57" height="46.90" fill="#21ffde"/>
<rect x="617.97" y="545.10" width="56.57" height="46.90" fill="#0000f2"/>
<rect x="674.53" y="545.10" width="56.57" height="46.90" fill="#0081ff"/>
<rect x="731.10" y="545.10" width="56.57" height="46.90" fill="#04fffb"/>
<rect x="787.67" y="545.10" width="56.57" height="46.90" fill="#04fffb"/>
<rect x="844.23" y="545.10" width="56.57" height="46.90" fill="#2affd5"/>
<rect x="617.97" y="592.00" width="56.57" height="46.90" fill="#0000b4"/>
<rect x="674.53" y="592.00" width="56.57" height="46.90" fill="#0032ff"/>
<rect x="731.10" y="592.00" width="56.57" height="46.90" fill="#00ddff"/>
<rect x="787.67" y="592.00" width="56.57" height="46.90" fill="#0efff1"/>
<rect x="844.23" y="592.00" width="56.57" height="46.90" fill="#17ffe8"/>
<rect x="617.97" y="638.90" width="56.57" height="46.90" fill="#50ffaf"/>
<rect x="674.53" y="638.90" width="56.57" height="46.90" fill="#63ff9c"/>
<rect x="731.10" y="638.90" width="56.57" height="46.90" fill="#76ff89"/>
<path d="M561.40 498.20V779.60M561.40 498.20H900.80M617.97 498.20V779.60M561.40 545.10H900.80M674.53 498.20V779.60M561.40 592.00H900.80M731.10 498.20V779.60M561.40 638.90H900.80M787.67 498.20V779.60M561.40 685.80H900.80M844.23 498.20V779.60M561.40 732.70H900.80M900.80 498.20V779.60M561.40 779.60H900.80" stroke="#2c5a3a" stroke-width="0.9" fill="none" stroke-linecap="square" opacity="0.85"/>
<text transform="translate(588.48 528.65) scale(0.98 1.0)" font-size="21.0" text-anchor="middle" stroke="#000">4</text>
<text transform="translate(645.05 528.65) scale(0.98 1.0)" font-size="21.0" text-anchor="middle" stroke="#000">12</text>
<text transform="translate(701.62 528.45) scale(0.98 1.0)" font-size="21.0" text-anchor="middle" stroke="#000">12</text>
<text transform="translate(701.82 549.15)" font-size="22.0" text-anchor="middle" stroke="#000">*</text>
<text transform="translate(758.18 528.65) scale(0.98 1.0)" font-size="21.0" text-anchor="middle" stroke="#000">4</text>
<text transform="translate(814.75 528.45) scale(0.98 1.0)" font-size="21.0" text-anchor="middle" stroke="#000">10</text>
<text transform="translate(814.95 549.15)" font-size="22.0" text-anchor="middle" stroke="#000">***</text>
<text transform="translate(871.32 528.65) scale(0.98 1.0)" font-size="21.0" text-anchor="middle" stroke="#000">2</text>
<text transform="translate(586.48 575.55) scale(0.98 1.0)" font-size="21.0" text-anchor="middle" stroke="#000">–9</text>
<text transform="translate(645.05 575.35) scale(0.98 1.0)" font-size="21.0" text-anchor="middle" fill="#fff" stroke="#fff">38</text>
<text transform="translate(645.25 596.05)" font-size="22.0" text-anchor="middle" fill="#fff" stroke="#fff">*</text>
<text transform="translate(701.62 575.35) scale(0.98 1.0)" font-size="21.0" text-anchor="middle" fill="#fff" stroke="#fff">25</text>
<text transform="translate(701.82 596.05)" font-size="22.0" text-anchor="middle" fill="#fff" stroke="#fff">**</text>
<text transform="translate(758.18 575.35) scale(0.98 1.0)" font-size="21.0" text-anchor="middle" stroke="#000">13</text>
<text transform="translate(758.38 596.05)" font-size="22.0" text-anchor="middle" stroke="#000">*</text>
<text transform="translate(814.75 575.35) scale(0.98 1.0)" font-size="21.0" text-anchor="middle" stroke="#000">13</text>
<text transform="translate(814.95 596.05)" font-size="22.0" text-anchor="middle" stroke="#000">**</text>
<text transform="translate(871.32 575.35) scale(0.98 1.0)" font-size="21.0" text-anchor="middle" stroke="#000">9</text>
<text transform="translate(871.52 596.05)" font-size="22.0" text-anchor="middle" stroke="#000">*</text>
<text transform="translate(586.48 622.45) scale(0.98 1.0)" font-size="21.0" text-anchor="middle" stroke="#000">–4</text>
<text transform="translate(645.05 622.25) scale(0.98 1.0)" font-size="21.0" text-anchor="middle" fill="#fff" stroke="#fff">44</text>
<text transform="translate(645.25 642.95)" font-size="22.0" text-anchor="middle" fill="#fff" stroke="#fff">***</text>
<text transform="translate(701.62 622.25) scale(0.98 1.0)" font-size="21.0" text-anchor="middle" fill="#fff" stroke="#fff">32</text>
<text transform="translate(701.82 642.95)" font-size="22.0" text-anchor="middle" fill="#fff" stroke="#fff">***</text>
<text transform="translate(758.18 622.25) scale(0.98 1.0)" font-size="21.0" text-anchor="middle" stroke="#000">17</text>
<text transform="translate(758.38 642.95)" font-size="22.0" text-anchor="middle" stroke="#000">***</text>
<text transform="translate(814.75 622.25) scale(0.98 1.0)" font-size="21.0" text-anchor="middle" stroke="#000">12</text>
<text transform="translate(814.95 642.95)" font-size="22.0" text-anchor="middle" stroke="#000">***</text>
<text transform="translate(871.32 622.25) scale(0.98 1.0)" font-size="21.0" text-anchor="middle" stroke="#000">11</text>
<text transform="translate(871.52 642.95)" font-size="22.0" text-anchor="middle" stroke="#000">***</text>
<text transform="translate(586.48 669.35) scale(0.98 1.0)" font-size="21.0" text-anchor="middle" stroke="#000">–1</text>
<text transform="translate(645.05 669.15) scale(0.98 1.0)" font-size="21.0" text-anchor="middle" stroke="#000">5</text>
<text transform="translate(645.25 689.85)" font-size="22.0" text-anchor="middle" stroke="#000">***</text>
<text transform="translate(701.62 669.15) scale(0.98 1.0)" font-size="21.0" text-anchor="middle" stroke="#000">3</text>
<text transform="translate(701.82 689.85)" font-size="22.0" text-anchor="middle" stroke="#000">*</text>
<text transform="translate(758.18 669.15) scale(0.98 1.0)" font-size="21.0" text-anchor="middle" stroke="#000">1</text>
<text transform="translate(758.38 689.85)" font-size="22.0" text-anchor="middle" stroke="#000">*</text>
<text transform="translate(814.75 669.35) scale(0.98 1.0)" font-size="21.0" text-anchor="middle" stroke="#000">1</text>
<text transform="translate(871.32 669.35) scale(0.98 1.0)" font-size="21.0" text-anchor="middle" stroke="#000">1</text>
<text transform="translate(588.48 716.25) scale(0.98 1.0)" font-size="21.0" text-anchor="middle" stroke="#000">0</text>
<text transform="translate(645.05 716.25) scale(0.98 1.0)" font-size="21.0" text-anchor="middle" stroke="#000">0</text>
<text transform="translate(701.62 716.25) scale(0.98 1.0)" font-size="21.0" text-anchor="middle" stroke="#000">0</text>
<text transform="translate(756.18 716.25) scale(0.98 1.0)" font-size="21.0" text-anchor="middle" stroke="#000">–1</text>
<text transform="translate(812.75 716.25) scale(0.98 1.0)" font-size="21.0" text-anchor="middle" stroke="#000">–1</text>
<text transform="translate(869.32 716.25) scale(0.98 1.0)" font-size="21.0" text-anchor="middle" stroke="#000">–1</text>
<text transform="translate(588.48 763.15) scale(0.98 1.0)" font-size="21.0" text-anchor="middle" stroke="#000">0</text>
<text transform="translate(645.05 763.15) scale(0.98 1.0)" font-size="21.0" text-anchor="middle" stroke="#000">0</text>
<text transform="translate(701.62 763.15) scale(0.98 1.0)" font-size="21.0" text-anchor="middle" stroke="#000">0</text>
<text transform="translate(756.18 763.15) scale(0.98 1.0)" font-size="21.0" text-anchor="middle" stroke="#000">–1</text>
<text transform="translate(812.75 763.15) scale(0.98 1.0)" font-size="21.0" text-anchor="middle" stroke="#000">–1</text>
<text transform="translate(869.32 763.15) scale(0.98 1.0)" font-size="21.0" text-anchor="middle" stroke="#000">–1</text>
<text transform="translate(556.80 526.15)" font-size="21.0" text-anchor="end" stroke="#000">0.008</text>
<text transform="translate(556.80 573.05)" font-size="21.0" text-anchor="end" stroke="#000">0.025</text>
<text transform="translate(556.80 619.95)" font-size="21.0" text-anchor="end" stroke="#000">0.074</text>
<text transform="translate(556.80 666.85)" font-size="21.0" text-anchor="end" stroke="#000">0.222</text>
<text transform="translate(556.80 713.75)" font-size="21.0" text-anchor="end" stroke="#000">0.667</text>
<text transform="translate(556.80 760.65)" font-size="21.0" text-anchor="end" stroke="#000">2</text>
<text transform="translate(590.78 495.30) rotate(-45)" font-size="21.0" stroke="#000">0.002</text>
<text transform="translate(648.45 495.30) rotate(-45)" font-size="21.0" stroke="#000">0.006</text>
<text transform="translate(704.92 495.30) rotate(-45)" font-size="21.0" stroke="#000">0.019</text>
<text transform="translate(761.18 495.30) rotate(-45)" font-size="21.0" stroke="#000">0.056</text>
<text transform="translate(818.15 495.30) rotate(-45)" font-size="21.0" stroke="#000">0.167</text>
<text transform="translate(875.42 495.30) rotate(-45)" font-size="21.0" stroke="#000">0.5</text>
<text transform="translate(499.20 430.70) " font-size="21.1" stroke="#000"><tspan font-style="italic">n</tspan> = 8</text>
<text transform="translate(648.70 430.70)" font-size="21.0" stroke="#000">BAY-2402234 (µM)</text>
<text transform="translate(497.10 647.50) rotate(-90) scale(1.0 1.1)" font-size="20.6" text-anchor="middle" stroke="#000">Remdesivir (µM)</text>
<rect x="908.30" y="498.20" width="17.70" height="281.40" fill="url(#jet)" stroke="#6b4a3a" stroke-width="0.7"/>
<text transform="translate(947.00 551.80) rotate(-90) scale(1.0 1.08)" font-size="21.0" text-anchor="middle" stroke="#000">Synergy</text>
<text transform="translate(947.00 710.05) rotate(-90) scale(1.0 1.08)" font-size="21.0" text-anchor="middle" stroke="#000">Antagonism</text>
<rect x="74.20" y="908.20" width="339.70" height="281.70" fill="#80ff80"/>
<rect x="130.82" y="908.20" width="56.62" height="46.95" fill="#ff9300"/>
<rect x="74.20" y="1049.05" width="56.62" height="46.95" fill="#ffa800"/>
<rect x="130.82" y="1049.05" width="56.62" height="46.95" fill="#ffd800"/>
<rect x="244.05" y="1049.05" width="56.62" height="46.95" fill="#ff9e00"/>
<rect x="300.67" y="1049.05" width="56.62" height="46.95" fill="#caff35"/>
<rect x="187.43" y="1096.00" width="56.62" height="46.95" fill="#a0ff5f"/>
<rect x="244.05" y="1096.00" width="56.62" height="46.95" fill="#e0ff1f"/>
<rect x="300.67" y="1096.00" width="56.62" height="46.95" fill="#b5ff4a"/>
<rect x="357.28" y="1096.00" width="56.62" height="46.95" fill="#a0ff5f"/>
<rect x="74.20" y="1142.95" width="56.62" height="46.95" fill="#80ff80"/>
<rect x="244.05" y="1142.95" width="56.62" height="46.95" fill="#95ff6a"/>
<rect x="300.67" y="1142.95" width="56.62" height="46.95" fill="#95ff6a"/>
<rect x="357.28" y="1142.95" width="56.62" height="46.95" fill="#95ff6a"/>
<path d="M74.20 908.20V1189.90M74.20 908.20H413.90M130.82 908.20V1189.90M74.20 955.15H413.90M187.43 908.20V1189.90M74.20 1002.10H413.90M244.05 908.20V1189.90M74.20 1049.05H413.90M300.67 908.20V1189.90M74.20 1096.00H413.90M357.28 908.20V1189.90M74.20 1142.95H413.90M413.90 908.20V1189.90M74.20 1189.90H413.90" stroke="#2c5a3a" stroke-width="0.9" fill="none" stroke-linecap="square" opacity="0.85"/>
<text transform="translate(101.31 938.88) scale(0.98 1.0)" font-size="21.0" text-anchor="middle" stroke="#000">4</text>
<text transform="translate(155.93 938.77) scale(0.98 1.0)" font-size="21.0" text-anchor="middle" stroke="#000">–22</text>
<text transform="translate(158.12 959.58)" font-size="22.0" text-anchor="middle" stroke="#000">*</text>
<text transform="translate(214.54 938.88) scale(0.98 1.0)" font-size="21.0" text-anchor="middle" stroke="#000">2</text>
<text transform="translate(271.16 938.88) scale(0.98 1.0)" font-size="21.0" text-anchor="middle" stroke="#000">11</text>
<text transform="translate(327.78 938.88) scale(0.98 1.0)" font-size="21.0" text-anchor="middle" stroke="#000">2</text>
<text transform="translate(384.39 938.88) scale(0.98 1.0)" font-size="21.0" text-anchor="middle" stroke="#000">3</text>
<text transform="translate(101.31 985.83) scale(0.98 1.0)" font-size="21.0" text-anchor="middle" stroke="#000">7</text>
<text transform="translate(155.93 985.83) scale(0.98 1.0)" font-size="21.0" text-anchor="middle" stroke="#000">–11</text>
<text transform="translate(212.54 985.83) scale(0.98 1.0)" font-size="21.0" text-anchor="middle" stroke="#000">–2</text>
<text transform="translate(271.16 985.83) scale(0.98 1.0)" font-size="21.0" text-anchor="middle" stroke="#000">7</text>
<text transform="translate(325.78 985.83) scale(0.98 1.0)" font-size="21.0" text-anchor="middle" stroke="#000">–6</text>
<text transform="translate(384.39 985.83) scale(0.98 1.0)" font-size="21.0" text-anchor="middle" stroke="#000">4</text>
<text transform="translate(99.31 1032.78) scale(0.98 1.0)" font-size="21.0" text-anchor="middle" stroke="#000">–11</text>
<text transform="translate(155.93 1032.78) scale(0.98 1.0)" font-size="21.0" text-anchor="middle" stroke="#000">–13</text>
<text transform="translate(212.54 1032.78) scale(0.98 1.0)" font-size="21.0" text-anchor="middle" stroke="#000">–3</text>
<text transform="translate(269.16 1032.78) scale(0.98 1.0)" font-size="21.0" text-anchor="middle" stroke="#000">–2</text>
<text transform="translate(327.78 1032.78) scale(0.98 1.0)" font-size="21.0" text-anchor="middle" stroke="#000">0</text>
<text transform="translate(384.39 1032.78) scale(0.98 1.0)" font-size="21.0" text-anchor="middle" stroke="#000">2</text>
<text transform="translate(99.31 1076.33) scale(0.98 1.0)" font-size="21.0" text-anchor="middle" stroke="#000">–20</text>
<text transform="translate(101.51 1100.43)" font-size="22.0" text-anchor="middle" stroke="#000">*</text>
<text transform="translate(155.93 1076.33) scale(0.98 1.0)" font-size="21.0" text-anchor="middle" stroke="#000">–14</text>
<text transform="translate(158.12 1100.43)" font-size="22.0" text-anchor="middle" stroke="#000">*</text>
<text transform="translate(212.54 1079.73) scale(0.98 1.0)" font-size="21.0" text-anchor="middle" stroke="#000">–12</text>
<text transform="translate(269.16 1076.33) scale(0.98 1.0)" font-size="21.0" text-anchor="middle" stroke="#000">–21</text>
<text transform="translate(271.36 1100.43)" font-size="22.0" text-anchor="middle" stroke="#000">*</text>
<text transform="translate(325.78 1076.33) scale(0.98 1.0)" font-size="21.0" text-anchor="middle" stroke="#000">–7</text>
<text transform="translate(327.98 1100.43)" font-size="22.0" text-anchor="middle" stroke="#000">*</text>
<text transform="translate(382.39 1079.73) scale(0.98 1.0)" font-size="21.0" text-anchor="middle" stroke="#000">–6</text>
<text transform="translate(101.31 1126.68) scale(0.98 1.0)" font-size="21.0" text-anchor="middle" stroke="#000">0</text>
<text transform="translate(157.93 1126.68) scale(0.98 1.0)" font-size="21.0" text-anchor="middle" stroke="#000">0</text>
<text transform="translate(212.54 1125.28) scale(0.98 1.0)" font-size="21.0" text-anchor="middle" stroke="#000">–3</text>
<text transform="translate(214.74 1147.38)" font-size="22.0" text-anchor="middle" stroke="#000">*</text>
<text transform="translate(269.16 1125.28) scale(0.98 1.0)" font-size="21.0" text-anchor="middle" stroke="#000">–9</text>
<text transform="translate(271.36 1147.38)" font-size="22.0" text-anchor="middle" stroke="#000">**</text>
<text transform="translate(325.78 1125.28) scale(0.98 1.0)" font-size="21.0" text-anchor="middle" stroke="#000">–5</text>
<text transform="translate(327.98 1147.38)" font-size="22.0" text-anchor="middle" stroke="#000">*</text>
<text transform="translate(382.39 1125.28) scale(0.98 1.0)" font-size="21.0" text-anchor="middle" stroke="#000">–3</text>
<text transform="translate(384.59 1147.38)" font-size="22.0" text-anchor="middle" stroke="#000">*</text>
<text transform="translate(101.31 1172.53) scale(0.98 1.0)" font-size="21.0" text-anchor="middle" stroke="#000">0</text>
<text transform="translate(101.51 1194.33)" font-size="22.0" text-anchor="middle" stroke="#000">*</text>
<text transform="translate(157.93 1173.63) scale(0.98 1.0)" font-size="21.0" text-anchor="middle" stroke="#000">0</text>
<text transform="translate(214.54 1173.63) scale(0.98 1.0)" font-size="21.0" text-anchor="middle" stroke="#000">0</text>
<text transform="translate(269.16 1172.53) scale(0.98 1.0)" font-size="21.0" text-anchor="middle" stroke="#000">–2</text>
<text transform="translate(271.36 1194.33)" font-size="22.0" text-anchor="middle" stroke="#000">**</text>
<text transform="translate(325.78 1172.53) scale(0.98 1.0)" font-size="21.0" text-anchor="middle" stroke="#000">–2</text>
<text transform="translate(327.98 1194.33)" font-size="22.0" text-anchor="middle" stroke="#000">*</text>
<text transform="translate(382.39 1172.53) scale(0.98 1.0)" font-size="21.0" text-anchor="middle" stroke="#000">–2</text>
<text transform="translate(384.59 1194.33)" font-size="22.0" text-anchor="middle" stroke="#000">*</text>
<text transform="translate(70.40 936.18)" font-size="21.0" text-anchor="end" stroke="#000">0.04</text>
<text transform="translate(70.40 983.12)" font-size="21.0" text-anchor="end" stroke="#000">0.12</text>
<text transform="translate(70.40 1030.08)" font-size="21.0" text-anchor="end" stroke="#000">0.37</text>
<text transform="translate(70.40 1077.03)" font-size="21.0" text-anchor="end" stroke="#000">1.11</text>
<text transform="translate(70.40 1123.98)" font-size="21.0" text-anchor="end" stroke="#000">3.33</text>
<text transform="translate(70.40 1170.93)" font-size="21.0" text-anchor="end" stroke="#000">10</text>
<text transform="translate(102.71 901.80) rotate(-45)" font-size="21.0" stroke="#000">0.008</text>
<text transform="translate(162.92 901.80) rotate(-45)" font-size="21.0" stroke="#000">0.03</text>
<text transform="translate(222.54 901.80) rotate(-45)" font-size="21.0" stroke="#000">0.07</text>
<text transform="translate(276.76 901.80) rotate(-45)" font-size="21.0" stroke="#000">0.22</text>
<text transform="translate(332.78 901.80) rotate(-45)" font-size="21.0" stroke="#000">0.67</text>
<text transform="translate(383.99 901.80) rotate(-45)" font-size="21.0" stroke="#000">2</text>
<text transform="translate(53.30 844.70) " font-size="21.1" stroke="#000"><tspan font-style="italic">n</tspan> = 10</text>
<text transform="translate(193.40 841.20)" font-size="21.0" stroke="#000">AVN944 (µM)</text>
<text transform="translate(18.30 1049.00) rotate(-90) scale(1.0 1.1)" font-size="20.6" text-anchor="middle" stroke="#000">Molnupiravir (µM)</text>
<rect x="421.10" y="908.20" width="17.70" height="281.70" fill="url(#jet)" stroke="#6b4a3a" stroke-width="0.7"/>
<text transform="translate(461.50 958.10) rotate(-90) scale(1.0 1.08)" font-size="21.0" text-anchor="middle" stroke="#000">Synergy</text>
<text transform="translate(461.50 1115.65) rotate(-90) scale(1.0 1.08)" font-size="21.0" text-anchor="middle" stroke="#000">Antagonism</text>
<rect x="562.30" y="908.20" width="339.50" height="281.70" fill="#80ff80"/>
<rect x="675.47" y="908.20" width="56.58" height="46.95" fill="#ff7d00"/>
<rect x="675.47" y="955.15" width="56.58" height="46.95" fill="#ffc800"/>
<rect x="732.05" y="955.15" width="56.58" height="46.95" fill="#34ffcb"/>
<rect x="675.47" y="1002.10" width="56.58" height="46.95" fill="#ff6800"/>
<rect x="788.63" y="1049.05" width="56.58" height="46.95" fill="#95ff6a"/>
<rect x="845.22" y="1142.95" width="56.58" height="46.95" fill="#8aff75"/>
<path d="M562.30 908.20V1189.90M562.30 908.20H901.80M618.88 908.20V1189.90M562.30 955.15H901.80M675.47 908.20V1189.90M562.30 1002.10H901.80M732.05 908.20V1189.90M562.30 1049.05H901.80M788.63 908.20V1189.90M562.30 1096.00H901.80M845.22 908.20V1189.90M562.30 1142.95H901.80M901.80 908.20V1189.90M562.30 1189.90H901.80" stroke="#2c5a3a" stroke-width="0.9" fill="none" stroke-linecap="square" opacity="0.85"/>
<text transform="translate(589.39 938.98) scale(0.98 1.0)" font-size="21.0" text-anchor="middle" stroke="#000">0</text>
<text transform="translate(643.97 938.98) scale(0.98 1.0)" font-size="21.0" text-anchor="middle" stroke="#000">–13</text>
<text transform="translate(700.56 938.48) scale(0.98 1.0)" font-size="21.0" text-anchor="middle" stroke="#000">–24</text>
<text transform="translate(702.76 959.78)" font-size="22.0" text-anchor="middle" stroke="#000">*</text>
<text transform="translate(759.14 938.98) scale(0.98 1.0)" font-size="21.0" text-anchor="middle" stroke="#000">3</text>
<text transform="translate(815.72 938.98) scale(0.98 1.0)" font-size="21.0" text-anchor="middle" stroke="#000">2</text>
<text transform="translate(872.31 938.98) scale(0.98 1.0)" font-size="21.0" text-anchor="middle" stroke="#000">3</text>
<text transform="translate(589.39 985.92) scale(0.98 1.0)" font-size="21.0" text-anchor="middle" stroke="#000">4</text>
<text transform="translate(643.97 985.92) scale(0.98 1.0)" font-size="21.0" text-anchor="middle" stroke="#000">–15</text>
<text transform="translate(700.56 985.42) scale(0.98 1.0)" font-size="21.0" text-anchor="middle" stroke="#000">–17</text>
<text transform="translate(702.76 1006.73)" font-size="22.0" text-anchor="middle" stroke="#000">*</text>
<text transform="translate(759.14 985.42) scale(0.98 1.0)" font-size="21.0" text-anchor="middle" stroke="#000">8</text>
<text transform="translate(759.34 1006.73)" font-size="22.0" text-anchor="middle" stroke="#000">*</text>
<text transform="translate(815.72 985.92) scale(0.98 1.0)" font-size="21.0" text-anchor="middle" stroke="#000">9</text>
<text transform="translate(872.31 985.92) scale(0.98 1.0)" font-size="21.0" text-anchor="middle" stroke="#000">6</text>
<text transform="translate(589.39 1032.88) scale(0.98 1.0)" font-size="21.0" text-anchor="middle" stroke="#000">12</text>
<text transform="translate(643.97 1032.88) scale(0.98 1.0)" font-size="21.0" text-anchor="middle" stroke="#000">–6</text>
<text transform="translate(700.56 1032.38) scale(0.98 1.0)" font-size="21.0" text-anchor="middle" stroke="#000">–26</text>
<text transform="translate(702.76 1053.68)" font-size="22.0" text-anchor="middle" stroke="#000">*</text>
<text transform="translate(757.14 1032.88) scale(0.98 1.0)" font-size="21.0" text-anchor="middle" stroke="#000">–10</text>
<text transform="translate(815.72 1032.88) scale(0.98 1.0)" font-size="21.0" text-anchor="middle" stroke="#000">1</text>
<text transform="translate(872.31 1032.88) scale(0.98 1.0)" font-size="21.0" text-anchor="middle" stroke="#000">5</text>
<text transform="translate(587.39 1079.83) scale(0.98 1.0)" font-size="21.0" text-anchor="middle" stroke="#000">–2</text>
<text transform="translate(643.97 1079.83) scale(0.98 1.0)" font-size="21.0" text-anchor="middle" stroke="#000">–2</text>
<text transform="translate(700.56 1079.83) scale(0.98 1.0)" font-size="21.0" text-anchor="middle" stroke="#000">–5</text>
<text transform="translate(757.14 1079.83) scale(0.98 1.0)" font-size="21.0" text-anchor="middle" stroke="#000">–11</text>
<text transform="translate(813.72 1079.33) scale(0.98 1.0)" font-size="21.0" text-anchor="middle" stroke="#000">–2</text>
<text transform="translate(815.92 1100.63)" font-size="22.0" text-anchor="middle" stroke="#000">*</text>
<text transform="translate(872.31 1079.83) scale(0.98 1.0)" font-size="21.0" text-anchor="middle" stroke="#000">0</text>
<text transform="translate(589.39 1126.78) scale(0.98 1.0)" font-size="21.0" text-anchor="middle" stroke="#000">0</text>
<text transform="translate(645.97 1126.78) scale(0.98 1.0)" font-size="21.0" text-anchor="middle" stroke="#000">0</text>
<text transform="translate(702.56 1126.78) scale(0.98 1.0)" font-size="21.0" text-anchor="middle" stroke="#000">0</text>
<text transform="translate(759.14 1126.78) scale(0.98 1.0)" font-size="21.0" text-anchor="middle" stroke="#000">0</text>
<text transform="translate(813.72 1126.78) scale(0.98 1.0)" font-size="21.0" text-anchor="middle" stroke="#000">–2</text>
<text transform="translate(870.31 1126.78) scale(0.98 1.0)" font-size="21.0" text-anchor="middle" stroke="#000">–1</text>
<text transform="translate(589.39 1173.73) scale(0.98 1.0)" font-size="21.0" text-anchor="middle" stroke="#000">0</text>
<text transform="translate(645.97 1173.73) scale(0.98 1.0)" font-size="21.0" text-anchor="middle" stroke="#000">0</text>
<text transform="translate(702.56 1173.73) scale(0.98 1.0)" font-size="21.0" text-anchor="middle" stroke="#000">0</text>
<text transform="translate(757.14 1173.73) scale(0.98 1.0)" font-size="21.0" text-anchor="middle" stroke="#000">–1</text>
<text transform="translate(813.72 1173.73) scale(0.98 1.0)" font-size="21.0" text-anchor="middle" stroke="#000">–1</text>
<text transform="translate(870.31 1173.23) scale(0.98 1.0)" font-size="21.0" text-anchor="middle" stroke="#000">–1</text>
<text transform="translate(872.51 1194.53)" font-size="22.0" text-anchor="middle" stroke="#000">*</text>
<text transform="translate(556.80 936.18)" font-size="21.0" text-anchor="end" stroke="#000">0.008</text>
<text transform="translate(556.80 983.12)" font-size="21.0" text-anchor="end" stroke="#000">0.025</text>
<text transform="translate(556.80 1030.08)" font-size="21.0" text-anchor="end" stroke="#000">0.074</text>
<text transform="translate(556.80 1077.03)" font-size="21.0" text-anchor="end" stroke="#000">0.222</text>
<text transform="translate(556.80 1123.98)" font-size="21.0" text-anchor="end" stroke="#000">0.667</text>
<text transform="translate(556.80 1170.93)" font-size="21.0" text-anchor="end" stroke="#000">2</text>
<text transform="translate(588.29 901.80) rotate(-45)" font-size="21.0" stroke="#000">0.008</text>
<text transform="translate(648.47 901.80) rotate(-45)" font-size="21.0" stroke="#000">0.025</text>
<text transform="translate(701.06 901.80) rotate(-45)" font-size="21.0" stroke="#000">0.074</text>
<text transform="translate(761.24 901.80) rotate(-45)" font-size="21.0" stroke="#000">0.222</text>
<text transform="translate(819.02 901.80) rotate(-45)" font-size="21.0" stroke="#000">0.667</text>
<text transform="translate(872.51 901.80) rotate(-45)" font-size="21.0" stroke="#000">2</text>
<text transform="translate(497.60 844.70) " font-size="21.1" stroke="#000"><tspan font-style="italic">n</tspan> = 6</text>
<text transform="translate(678.50 841.20)" font-size="21.0" stroke="#000">AVN944 (µM)</text>
<text transform="translate(497.50 1057.50) rotate(-90) scale(1.0 1.1)" font-size="20.6" text-anchor="middle" stroke="#000">Remdesivir (µM)</text>
<rect x="909.00" y="908.20" width="18.00" height="281.70" fill="url(#jet)" stroke="#6b4a3a" stroke-width="0.7"/>
<text transform="translate(948.00 962.15) rotate(-90) scale(1.0 1.08)" font-size="21.0" text-anchor="middle" stroke="#000">Synergy</text>
<text transform="translate(948.00 1120.05) rotate(-90) scale(1.0 1.08)" font-size="21.0" text-anchor="middle" stroke="#000">Antagonism</text>
<text transform="translate(-1.00 17.40) scale(1.1 1.0)" font-size="32.0" font-weight="bold" stroke="#000" style="stroke-width:0.8px">a</text>
<text transform="translate(2.50 432.00) scale(1.1 1.0)" font-size="32.0" font-weight="bold" stroke="#000" style="stroke-width:0.8px">b</text>
<text transform="translate(4.50 844.50) scale(1.1 1.0)" font-size="32.0" font-weight="bold" stroke="#000" style="stroke-width:0.8px">c</text>
<path d="M1101.30 444.40V178.45H1135.70V444.40" fill="#fff" stroke="#dc8cf8" stroke-width="1.9"/>
<path d="M1161.18 444.40V167.85H1195.58V444.40" fill="#fff" stroke="#dc8cf8" stroke-width="1.9"/>
<path d="M1221.06 444.40V176.95H1255.46V444.40" fill="#fff" stroke="#f896c3" stroke-width="1.9"/>
<path d="M1280.94 444.40V167.15H1315.34V444.40" fill="#fff" stroke="#f896c3" stroke-width="1.9"/>
<path d="M1340.82 444.40V168.45H1375.22V444.40" fill="#fff" stroke="#f896c3" stroke-width="1.9"/>
<path d="M1400.70 444.40V215.25H1435.10V444.40" fill="#fff" stroke="#80f860" stroke-width="1.9"/>
<path d="M1460.58 444.40V320.65H1494.98V444.40" fill="#dc8cf8" stroke="#80f860" stroke-width="1.9"/>
<path d="M1520.46 444.40V278.45H1554.86V444.40" fill="#dc8cf8" stroke="#80f860" stroke-width="1.9"/>
<path d="M1580.34 444.40V299.45H1614.74V444.40" fill="#f896c3" stroke="#80f860" stroke-width="1.9"/>
<path d="M1640.22 444.40V296.75H1674.62V444.40" fill="#f896c3" stroke="#80f860" stroke-width="1.9"/>
<path d="M1700.10 444.40V292.25H1734.50V444.40" fill="#f896c3" stroke="#80f860" stroke-width="1.9"/>
<path d="M1759.98 444.40V177.35H1794.38V444.40" fill="#fff" stroke="#80f860" stroke-width="1.9"/>
<path d="M1819.86 444.40V256.15H1854.26V444.40" fill="#dc8cf8" stroke="#80f860" stroke-width="1.9"/>
<path d="M1879.74 444.40V211.05H1914.14V444.40" fill="#dc8cf8" stroke="#80f860" stroke-width="1.9"/>
<path d="M1939.62 444.40V249.35H1974.02V444.40" fill="#f896c3" stroke="#80f860" stroke-width="1.9"/>
<path d="M1999.50 444.40V248.05H2033.90V444.40" fill="#f896c3" stroke="#80f860" stroke-width="1.9"/>
<path d="M2059.38 444.40V239.85H2093.78V444.40" fill="#f896c3" stroke="#80f860" stroke-width="1.9"/>
<path d="M2119.31 444.40V167.90H2153.61V444.40" fill="#fff" stroke="#000" stroke-width="2.0"/>
<path d="M1118.50 178.00V162.50M1108.05 162.50H1128.95M1178.38 167.40V152.20M1167.93 152.20H1188.83M1238.26 176.50V158.50M1227.81 158.50H1248.71M1298.14 166.70V146.40M1287.69 146.40H1308.59M1358.02 168.00V153.60M1347.57 153.60H1368.47M1417.90 214.80V197.80M1407.45 197.80H1428.35M1477.78 320.20V302.60M1467.33 302.60H1488.23M1537.66 278.00V251.50M1527.21 251.50H1548.11M1597.54 299.00V271.50M1587.09 271.50H1607.99M1657.42 296.30V269.80M1646.97 269.80H1667.87M1717.30 291.80V263.90M1706.85 263.90H1727.75M1777.18 176.90V163.40M1766.73 163.40H1787.63M1837.06 255.70V238.40M1826.61 238.40H1847.51M1896.94 210.60V192.60M1886.49 192.60H1907.39M1956.82 248.90V230.90M1946.37 230.90H1967.27M2016.70 247.60V229.20M2006.25 229.20H2027.15M2076.58 239.40V226.60M2066.13 226.60H2087.03" stroke="#000" stroke-width="1.3" fill="none"/>
<path d="M1078.70 93.30V444.40M1067.20 444.40H2158.00M1067.20 94.20H1078.70M1067.20 164.24H1078.70M1067.20 234.28H1078.70M1067.20 304.32H1078.70M1067.20 374.36H1078.70M1118.50 444.40V456.40M1178.38 444.40V456.40M1238.26 444.40V456.40M1298.14 444.40V456.40M1358.02 444.40V456.40M1417.90 444.40V456.40M1477.78 444.40V456.40M1537.66 444.40V456.40M1597.54 444.40V456.40M1657.42 444.40V456.40M1717.30 444.40V456.40M1777.18 444.40V456.40M1837.06 444.40V456.40M1896.94 444.40V456.40M1956.82 444.40V456.40M2016.70 444.40V456.40M2076.58 444.40V456.40M2136.46 444.40V456.40" stroke="#000" stroke-width="1.8" fill="none"/>
<circle cx="1118.50" cy="161.60" r="4.2"/>
<circle cx="1118.50" cy="179.50" r="4.2"/>
<circle cx="1118.50" cy="196.00" r="4.2"/>
<circle cx="1170.18" cy="156.90" r="4.2"/>
<circle cx="1186.38" cy="157.90" r="4.2"/>
<circle cx="1178.38" cy="189.50" r="4.2"/>
<circle cx="1238.26" cy="157.50" r="4.2"/>
<circle cx="1238.26" cy="178.80" r="4.2"/>
<circle cx="1238.26" cy="198.50" r="4.2"/>
<circle cx="1298.14" cy="145.10" r="4.2"/>
<circle cx="1298.14" cy="174.90" r="4.2"/>
<circle cx="1298.14" cy="193.20" r="4.2"/>
<circle cx="1358.02" cy="153.30" r="4.2"/>
<circle cx="1358.02" cy="167.40" r="4.2"/>
<circle cx="1358.02" cy="185.40" r="4.2"/>
<circle cx="1417.90" cy="196.80" r="4.2"/>
<circle cx="1417.90" cy="217.40" r="4.2"/>
<circle cx="1417.90" cy="234.10" r="4.2"/>
<circle cx="1477.78" cy="302.60" r="4.2"/>
<circle cx="1477.78" cy="317.90" r="4.2"/>
<circle cx="1477.78" cy="349.40" r="4.2"/>
<circle cx="1537.66" cy="249.20" r="4.2"/>
<circle cx="1537.66" cy="297.30" r="4.2"/>
<circle cx="1537.66" cy="340.90" r="4.2"/>
<circle cx="1597.54" cy="269.50" r="4.2"/>
<circle cx="1597.54" cy="317.00" r="4.2"/>
<circle cx="1597.54" cy="380.00" r="4.2"/>
<circle cx="1657.42" cy="267.50" r="4.2"/>
<circle cx="1657.42" cy="311.70" r="4.2"/>
<circle cx="1657.42" cy="374.60" r="4.2"/>
<circle cx="1717.30" cy="261.60" r="4.2"/>
<circle cx="1717.30" cy="318.90" r="4.2"/>
<circle cx="1717.30" cy="354.60" r="4.2"/>
<circle cx="1777.18" cy="163.80" r="4.2"/>
<circle cx="1777.18" cy="173.90" r="4.2"/>
<circle cx="1777.18" cy="192.20" r="4.2"/>
<circle cx="1837.06" cy="238.10" r="4.2"/>
<circle cx="1837.06" cy="256.10" r="4.2"/>
<circle cx="1837.06" cy="279.60" r="4.2"/>
<circle cx="1896.94" cy="192.60" r="4.2"/>
<circle cx="1896.94" cy="208.30" r="4.2"/>
<circle cx="1896.94" cy="238.70" r="4.2"/>
<circle cx="1956.82" cy="229.60" r="4.2"/>
<circle cx="1956.82" cy="253.50" r="4.2"/>
<circle cx="1956.82" cy="269.80" r="4.2"/>
<circle cx="2008.60" cy="234.80" r="4.2"/>
<circle cx="2024.70" cy="235.80" r="4.2"/>
<circle cx="2016.70" cy="288.80" r="4.2"/>
<circle cx="2076.58" cy="227.30" r="4.2"/>
<circle cx="2076.58" cy="236.10" r="4.2"/>
<circle cx="2076.58" cy="254.10" r="4.2"/>
<circle cx="2120.46" cy="164.40" r="4.2"/>
<circle cx="2136.46" cy="164.40" r="4.2"/>
<circle cx="2152.26" cy="164.40" r="4.2"/>
<text transform="translate(1417.90 193.80)" font-size="22.0" text-anchor="middle" stroke="#000">**</text>
<text transform="translate(1477.78 296.20)" font-size="22.0" text-anchor="middle" fill="#80f860" stroke="#80f860">***</text>
<text transform="translate(1537.66 247.50)" font-size="22.0" text-anchor="middle" fill="#80f860" stroke="#80f860">**</text>
<text transform="translate(1597.54 267.10)" font-size="22.0" text-anchor="middle" fill="#80f860" stroke="#80f860">***</text>
<text transform="translate(1657.42 264.70)" font-size="22.0" text-anchor="middle" fill="#80f860" stroke="#80f860">***</text>
<text transform="translate(1717.30 259.90)" font-size="22.0" text-anchor="middle" fill="#80f860" stroke="#80f860">**</text>
<text transform="translate(1837.06 233.70)" font-size="22.0" text-anchor="middle" fill="#80f860" stroke="#80f860">**</text>
<text transform="translate(1896.94 187.90)" font-size="22.0" text-anchor="middle" fill="#80f860" stroke="#80f860">*</text>
<text transform="translate(1956.82 227.20)" font-size="22.0" text-anchor="middle" fill="#80f860" stroke="#80f860">**</text>
<text transform="translate(2016.70 224.20)" font-size="22.0" text-anchor="middle" fill="#80f860" stroke="#80f860">**</text>
<text transform="translate(2076.58 221.90)" font-size="22.0" text-anchor="middle" fill="#80f860" stroke="#80f860">**</text>
<text transform="translate(1059.00 104.70)" font-size="21" text-anchor="end" stroke="#000">10<tspan font-size="13.6" dy="-7.6">1</tspan></text>
<text transform="translate(1059.00 174.74)" font-size="21" text-anchor="end" stroke="#000">10<tspan font-size="13.6" dy="-7.6">0</tspan></text>
<text transform="translate(1059.00 244.78)" font-size="21" text-anchor="end" stroke="#000">10<tspan font-size="13.6" dy="-7.6">–1</tspan></text>
<text transform="translate(1059.00 314.82)" font-size="21" text-anchor="end" stroke="#000">10<tspan font-size="13.6" dy="-7.6">–2</tspan></text>
<text transform="translate(1059.00 384.86)" font-size="21" text-anchor="end" stroke="#000">10<tspan font-size="13.6" dy="-7.6">–3</tspan></text>
<text transform="translate(1059.00 454.90)" font-size="21" text-anchor="end" stroke="#000">10<tspan font-size="13.6" dy="-7.6">–4</tspan></text>
<text transform="translate(1011.70 270.50) rotate(-90) scale(1.0 1.1)" font-size="20.6" text-anchor="middle" stroke="#000">Relative vRNA</text>
<rect x="989.10" y="465.30" width="115.50" height="31.40" fill="#80f860"/>
<text transform="translate(1103.70 487.80)" font-size="21.0" text-anchor="end" stroke="#000">Molnupiravir</text>
<text transform="translate(1120.70 486.65) scale(0.9 1)" font-size="21" text-anchor="middle" stroke="#000">–</text>
<text transform="translate(1180.08 486.65) scale(0.9 1)" font-size="21" text-anchor="middle" stroke="#000">–</text>
<text transform="translate(1237.06 486.65) scale(0.9 1)" font-size="21" text-anchor="middle" stroke="#000">–</text>
<text transform="translate(1296.94 486.65) scale(0.9 1)" font-size="21" text-anchor="middle" stroke="#000">–</text>
<text transform="translate(1356.82 486.65) scale(0.9 1)" font-size="21" text-anchor="middle" stroke="#000">–</text>
<text transform="translate(1416.70 487.00)" font-size="21.0" text-anchor="middle" stroke="#000">2</text>
<text transform="translate(1476.58 487.00)" font-size="21.0" text-anchor="middle" stroke="#000">2</text>
<text transform="translate(1536.46 487.00)" font-size="21.0" text-anchor="middle" stroke="#000">2</text>
<text transform="translate(1596.34 487.00)" font-size="21.0" text-anchor="middle" stroke="#000">2</text>
<text transform="translate(1656.22 487.00)" font-size="21.0" text-anchor="middle" stroke="#000">2</text>
<text transform="translate(1716.10 487.00)" font-size="21.0" text-anchor="middle" stroke="#000">2</text>
<text transform="translate(1775.98 487.00)" font-size="21.0" text-anchor="middle" stroke="#000">0.4</text>
<text transform="translate(1835.86 487.00)" font-size="21.0" text-anchor="middle" stroke="#000">0.4</text>
<text transform="translate(1895.74 487.00)" font-size="21.0" text-anchor="middle" stroke="#000">0.4</text>
<text transform="translate(1955.62 487.00)" font-size="21.0" text-anchor="middle" stroke="#000">0.4</text>
<text transform="translate(2015.50 487.00)" font-size="21.0" text-anchor="middle" stroke="#000">0.4</text>
<text transform="translate(2075.38 487.00)" font-size="21.0" text-anchor="middle" stroke="#000">0.4</text>
<rect x="1004.20" y="502.10" width="100.40" height="31.00" fill="#dc8cf8"/>
<text transform="translate(1100.80 524.80)" font-size="21.0" text-anchor="end" stroke="#000">Brequinar</text>
<text transform="translate(1120.70 525.10)" font-size="21.0" text-anchor="middle" stroke="#000">10</text>
<text transform="translate(1177.18 525.10)" font-size="21.0" text-anchor="middle" stroke="#000">2</text>
<text transform="translate(1237.06 524.95) scale(0.9 1)" font-size="21" text-anchor="middle" stroke="#000">–</text>
<text transform="translate(1296.94 524.95) scale(0.9 1)" font-size="21" text-anchor="middle" stroke="#000">–</text>
<text transform="translate(1356.82 524.95) scale(0.9 1)" font-size="21" text-anchor="middle" stroke="#000">–</text>
<text transform="translate(1416.70 524.95) scale(0.9 1)" font-size="21" text-anchor="middle" stroke="#000">–</text>
<text transform="translate(1476.58 525.10)" font-size="21.0" text-anchor="middle" stroke="#000">10</text>
<text transform="translate(1536.46 525.10)" font-size="21.0" text-anchor="middle" stroke="#000">2</text>
<text transform="translate(1596.34 524.95) scale(0.9 1)" font-size="21" text-anchor="middle" stroke="#000">–</text>
<text transform="translate(1656.22 524.95) scale(0.9 1)" font-size="21" text-anchor="middle" stroke="#000">–</text>
<text transform="translate(1716.10 524.95) scale(0.9 1)" font-size="21" text-anchor="middle" stroke="#000">–</text>
<text transform="translate(1775.98 524.95) scale(0.9 1)" font-size="21" text-anchor="middle" stroke="#000">–</text>
<text transform="translate(1835.86 525.10)" font-size="21.0" text-anchor="middle" stroke="#000">10</text>
<text transform="translate(1895.74 525.10)" font-size="21.0" text-anchor="middle" stroke="#000">2</text>
<text transform="translate(1955.62 524.95) scale(0.9 1)" font-size="21" text-anchor="middle" stroke="#000">–</text>
<text transform="translate(2015.50 524.95) scale(0.9 1)" font-size="21" text-anchor="middle" stroke="#000">–</text>
<text transform="translate(2075.38 524.95) scale(0.9 1)" font-size="21" text-anchor="middle" stroke="#000">–</text>
<rect x="960.00" y="539.10" width="145.50" height="31.30" fill="#f896c3"/>
<text transform="translate(1100.80 562.90) scale(1.025 1.0)" font-size="21.0" text-anchor="end" stroke="#000">BAY-2402234</text>
<text transform="translate(1120.70 559.15) scale(0.9 1)" font-size="21" text-anchor="middle" stroke="#000">–</text>
<text transform="translate(1180.08 559.15) scale(0.9 1)" font-size="21" text-anchor="middle" stroke="#000">–</text>
<text transform="translate(1237.06 559.30)" font-size="21.0" text-anchor="middle" stroke="#000">2</text>
<text transform="translate(1296.94 559.30)" font-size="21.0" text-anchor="middle" stroke="#000">0.4</text>
<text transform="translate(1356.82 559.30)" font-size="21.0" text-anchor="middle" stroke="#000">0.08</text>
<text transform="translate(1416.70 559.15) scale(0.9 1)" font-size="21" text-anchor="middle" stroke="#000">–</text>
<text transform="translate(1536.46 559.15) scale(0.9 1)" font-size="21" text-anchor="middle" stroke="#000">–</text>
<text transform="translate(1596.34 559.30)" font-size="21.0" text-anchor="middle" stroke="#000">2</text>
<text transform="translate(1656.22 559.30)" font-size="21.0" text-anchor="middle" stroke="#000">0.4</text>
<text transform="translate(1716.10 559.30)" font-size="21.0" text-anchor="middle" stroke="#000">0.08</text>
<text transform="translate(1775.98 559.15) scale(0.9 1)" font-size="21" text-anchor="middle" stroke="#000">–</text>
<text transform="translate(1835.86 559.15) scale(0.9 1)" font-size="21" text-anchor="middle" stroke="#000">–</text>
<text transform="translate(1895.74 559.15) scale(0.9 1)" font-size="21" text-anchor="middle" stroke="#000">–</text>
<text transform="translate(1955.62 559.30)" font-size="21.0" text-anchor="middle" stroke="#000">2</text>
<text transform="translate(2015.50 559.30)" font-size="21.0" text-anchor="middle" stroke="#000">0.4</text>
<text transform="translate(2075.38 559.30)" font-size="21.0" text-anchor="middle" stroke="#000">0.08</text>
<text transform="translate(2142.80 500.00) rotate(-90) scale(1.0 1.1)" font-size="20.6" text-anchor="middle" stroke="#000">DMSO</text>
<text transform="translate(990.50 25.80) scale(1.1 1.0)" font-size="32.0" font-weight="bold" stroke="#000" style="stroke-width:0.8px">d</text>
<path d="M1161.25 1084.60V735.20H1190.75V1084.60" fill="#fff" stroke="#f896c3" stroke-width="2.0"/>
<path d="M1216.52 1084.60V940.60H1246.02V1084.60" fill="#fff" stroke="#dc8cf8" stroke-width="2.0"/>
<path d="M1271.79 1084.60V925.40H1301.29V1084.60" fill="#fff" stroke="#80f860" stroke-width="2.0"/>
<path d="M1327.06 1084.60V866.40H1356.56V1084.60" fill="#fff" stroke="#80f860" stroke-width="2.0"/>
<path d="M1382.33 1084.60V1017.00H1411.83V1084.60" fill="#f896c3" stroke="#80f860" stroke-width="2.0"/>
<path d="M1437.60 1084.60V1033.20H1467.10V1084.60" fill="#dc8cf8" stroke="#80f860" stroke-width="2.0"/>
<path d="M1492.87 1084.60V726.50H1522.37V1084.60" fill="#fff" stroke="#000" stroke-width="2.0"/>
<path d="M1176.00 734.70V713.20M1166.60 713.20H1185.40M1231.27 940.10V917.70M1221.87 917.70H1240.67M1286.54 924.90V897.10M1277.14 897.10H1295.94M1341.81 865.90V834.80M1332.41 834.80H1351.21M1397.08 1016.50V1007.80M1387.68 1007.80H1406.48M1452.35 1032.70V1025.10M1442.95 1025.10H1461.75" stroke="#000" stroke-width="1.4" fill="none"/>
<path d="M1139.80 648.95V1084.60M1131.30 1084.60H1529.40M1131.30 649.90H1139.80M1131.30 722.35H1139.80M1131.30 794.80H1139.80M1131.30 867.25H1139.80M1131.30 939.70H1139.80M1131.30 1012.15H1139.80M1176.00 1084.60V1094.60M1231.27 1084.60V1094.60M1286.54 1084.60V1094.60M1341.81 1084.60V1094.60M1397.08 1084.60V1094.60M1452.35 1084.60V1094.60M1507.62 1084.60V1094.60" stroke="#000" stroke-width="1.9" fill="none"/>
<circle cx="1176.00" cy="718.20" r="4.05"/>
<circle cx="1176.00" cy="753.80" r="4.05"/>
<circle cx="1231.27" cy="922.40" r="4.05"/>
<circle cx="1231.27" cy="962.00" r="4.05"/>
<circle cx="1286.54" cy="903.60" r="4.05"/>
<circle cx="1286.54" cy="971.10" r="4.05"/>
<circle cx="1341.81" cy="840.80" r="4.05"/>
<circle cx="1341.81" cy="964.30" r="4.05"/>
<circle cx="1389.28" cy="1016.50" r="4.05"/>
<circle cx="1404.48" cy="1009.40" r="4.05"/>
<circle cx="1444.45" cy="1031.60" r="4.05"/>
<circle cx="1459.95" cy="1026.10" r="4.05"/>
<circle cx="1499.62" cy="722.10" r="4.05"/>
<circle cx="1514.82" cy="722.10" r="4.05"/>
<text transform="translate(1124.30 658.20)" font-size="21" text-anchor="end" stroke="#000">10<tspan font-size="13.6" dy="-7.6">1</tspan></text>
<text transform="translate(1124.30 731.10)" font-size="21" text-anchor="end" stroke="#000">10<tspan font-size="13.6" dy="-7.6">0</tspan></text>
<text transform="translate(1124.30 799.90)" font-size="21" text-anchor="end" stroke="#000">10<tspan font-size="13.6" dy="-7.6">–1</tspan></text>
<text transform="translate(1124.30 876.40)" font-size="21" text-anchor="end" stroke="#000">10<tspan font-size="13.6" dy="-7.6">–2</tspan></text>
<text transform="translate(1124.30 948.40)" font-size="21" text-anchor="end" stroke="#000">10<tspan font-size="13.6" dy="-7.6">–3</tspan></text>
<text transform="translate(1124.30 1020.70)" font-size="21" text-anchor="end" stroke="#000">10<tspan font-size="13.6" dy="-7.6">–4</tspan></text>
<text transform="translate(1124.30 1089.30)" font-size="21" text-anchor="end" stroke="#000">10<tspan font-size="13.6" dy="-7.6">–5</tspan></text>
<text transform="translate(1067.30 855.50) rotate(-90) scale(1.0 1.1)" font-size="20.6" text-anchor="middle" stroke="#000">Relative vRNA</text>
<rect x="1031.00" y="1097.90" width="116.00" height="30.90" fill="#80f860"/>
<text transform="translate(1146.20 1120.40)" font-size="21.0" text-anchor="end" stroke="#000">Molnupiravir</text>
<text transform="translate(1176.00 1120.15) scale(0.9 1)" font-size="21" text-anchor="middle" stroke="#000">–</text>
<text transform="translate(1231.27 1120.15) scale(0.9 1)" font-size="21" text-anchor="middle" stroke="#000">–</text>
<text transform="translate(1286.54 1120.40)" font-size="21.0" text-anchor="middle" stroke="#000">10</text>
<text transform="translate(1341.81 1120.40)" font-size="21.0" text-anchor="middle" stroke="#000">3</text>
<text transform="translate(1397.08 1120.40)" font-size="21.0" text-anchor="middle" stroke="#000">10</text>
<text transform="translate(1452.35 1120.40)" font-size="21.0" text-anchor="middle" stroke="#000">10</text>
<rect x="1003.00" y="1143.50" width="144.00" height="30.40" fill="#f896c3"/>
<text transform="translate(1143.30 1166.50) scale(1.025 1.0)" font-size="21.0" text-anchor="end" stroke="#000">BAY-2402234</text>
<text transform="translate(1176.00 1166.50)" font-size="21.0" text-anchor="middle" stroke="#000">30</text>
<text transform="translate(1231.27 1166.75) scale(0.9 1)" font-size="21" text-anchor="middle" stroke="#000">–</text>
<text transform="translate(1286.54 1166.75) scale(0.9 1)" font-size="21" text-anchor="middle" stroke="#000">–</text>
<text transform="translate(1341.81 1166.75) scale(0.9 1)" font-size="21" text-anchor="middle" stroke="#000">–</text>
<text transform="translate(1397.08 1166.50)" font-size="21.0" text-anchor="middle" stroke="#000">30</text>
<text transform="translate(1452.35 1166.75) scale(0.9 1)" font-size="21" text-anchor="middle" stroke="#000">–</text>
<rect x="1046.70" y="1191.20" width="100.30" height="31.30" fill="#dc8cf8"/>
<text transform="translate(1143.30 1213.20)" font-size="21.0" text-anchor="end" stroke="#000">Brequinar</text>
<text transform="translate(1176.00 1213.15) scale(0.9 1)" font-size="21" text-anchor="middle" stroke="#000">–</text>
<text transform="translate(1231.27 1213.20)" font-size="21.0" text-anchor="middle" stroke="#000">30</text>
<text transform="translate(1286.54 1213.15) scale(0.9 1)" font-size="21" text-anchor="middle" stroke="#000">–</text>
<text transform="translate(1341.81 1213.15) scale(0.9 1)" font-size="21" text-anchor="middle" stroke="#000">–</text>
<text transform="translate(1397.08 1213.15) scale(0.9 1)" font-size="21" text-anchor="middle" stroke="#000">–</text>
<text transform="translate(1452.35 1213.20)" font-size="21.0" text-anchor="middle" stroke="#000">30</text>
<text transform="translate(1515.00 1136.40) rotate(-90) scale(1.0 1.1)" font-size="20.6" text-anchor="middle" stroke="#000">DMSO</text>
<text transform="translate(1052.00 649.60) scale(1.1 1.0)" font-size="32.0" font-weight="bold" stroke="#000" style="stroke-width:0.8px">e</text>
<path d="M1745.50 1081.40V751.80H1776.50V1081.40" fill="#fff" stroke="#f896c3" stroke-width="2.0"/>
<path d="M1804.05 1081.40V773.90H1835.05V1081.40" fill="#fff" stroke="#dc8cf8" stroke-width="2.0"/>
<path d="M1862.60 1081.40V934.80H1893.60V1081.40" fill="#fff" stroke="#80f860" stroke-width="2.0"/>
<path d="M1921.15 1081.40V830.00H1952.15V1081.40" fill="#fff" stroke="#80f860" stroke-width="2.0"/>
<path d="M1979.70 1081.40V996.40H2010.70V1081.40" fill="#f896c3" stroke="#80f860" stroke-width="2.0"/>
<path d="M2038.25 1081.40V982.00H2069.25V1081.40" fill="#dc8cf8" stroke="#80f860" stroke-width="2.0"/>
<path d="M2096.80 1081.40V728.00H2127.80V1081.40" fill="#fff" stroke="#000" stroke-width="2.0"/>
<path d="M1761.00 751.30V743.60M1751.05 743.60H1770.95M1819.55 773.40V750.40M1809.60 750.40H1829.50M1878.10 934.30V915.20M1868.15 915.20H1888.05M1936.65 829.50V807.50M1926.70 807.50H1946.60M1995.20 995.90V970.90M1985.25 970.90H2005.15M2053.75 981.50V951.80M2043.80 951.80H2063.70" stroke="#000" stroke-width="1.5" fill="none"/>
<path d="M1721.90 651.75V1081.40M1713.40 1081.40H2136.80M1713.40 652.70H1721.90M1713.40 724.15H1721.90M1713.40 795.60H1721.90M1713.40 867.05H1721.90M1713.40 938.50H1721.90M1713.40 1009.95H1721.90M1761.00 1081.40V1090.90M1819.55 1081.40V1090.90M1878.10 1081.40V1090.90M1936.65 1081.40V1090.90M1995.20 1081.40V1090.90M2053.75 1081.40V1090.90M2112.30 1081.40V1090.90" stroke="#000" stroke-width="1.9" fill="none"/>
<circle cx="1752.60" cy="750.20" r="4.15"/>
<circle cx="1768.80" cy="745.50" r="4.15"/>
<circle cx="1819.55" cy="755.40" r="4.15"/>
<circle cx="1819.55" cy="795.70" r="4.15"/>
<circle cx="1878.10" cy="919.50" r="4.15"/>
<circle cx="1878.10" cy="948.10" r="4.15"/>
<circle cx="1936.65" cy="812.50" r="4.15"/>
<circle cx="1936.65" cy="850.50" r="4.15"/>
<circle cx="1995.20" cy="975.90" r="4.15"/>
<circle cx="1995.20" cy="1030.10" r="4.15"/>
<circle cx="2053.75" cy="958.00" r="4.15"/>
<circle cx="2053.75" cy="1047.90" r="4.15"/>
<circle cx="2103.90" cy="724.20" r="4.15"/>
<circle cx="2120.10" cy="724.20" r="4.15"/>
<text transform="translate(1709.60 658.20)" font-size="21" text-anchor="end" stroke="#000">10<tspan font-size="13.6" dy="-7.6">1</tspan></text>
<text transform="translate(1709.60 731.10)" font-size="21" text-anchor="end" stroke="#000">10<tspan font-size="13.6" dy="-7.6">0</tspan></text>
<text transform="translate(1709.60 799.90)" font-size="21" text-anchor="end" stroke="#000">10<tspan font-size="13.6" dy="-7.6">–1</tspan></text>
<text transform="translate(1709.60 876.40)" font-size="21" text-anchor="end" stroke="#000">10<tspan font-size="13.6" dy="-7.6">–2</tspan></text>
<text transform="translate(1709.60 948.40)" font-size="21" text-anchor="end" stroke="#000">10<tspan font-size="13.6" dy="-7.6">–3</tspan></text>
<text transform="translate(1709.60 1020.70)" font-size="21" text-anchor="end" stroke="#000">10<tspan font-size="13.6" dy="-7.6">–4</tspan></text>
<text transform="translate(1709.60 1089.30)" font-size="21" text-anchor="end" stroke="#000">10<tspan font-size="13.6" dy="-7.6">–5</tspan></text>
<text transform="translate(1649.20 878.10) rotate(-90) scale(1.0 1.1)" font-size="20.6" text-anchor="middle" stroke="#000">Relative vRNA</text>
<rect x="1604.80" y="1097.90" width="115.30" height="30.90" fill="#80f860"/>
<text transform="translate(1719.20 1120.40)" font-size="21.0" text-anchor="end" stroke="#000">Molnupiravir</text>
<text transform="translate(1761.00 1120.15) scale(0.9 1)" font-size="21" text-anchor="middle" stroke="#000">–</text>
<text transform="translate(1819.55 1120.15) scale(0.9 1)" font-size="21" text-anchor="middle" stroke="#000">–</text>
<text transform="translate(1878.10 1119.90)" font-size="21.0" text-anchor="middle" stroke="#000">10</text>
<text transform="translate(1936.65 1119.90)" font-size="21.0" text-anchor="middle" stroke="#000">3</text>
<text transform="translate(1995.20 1119.90)" font-size="21.0" text-anchor="middle" stroke="#000">3</text>
<text transform="translate(2053.75 1119.90)" font-size="21.0" text-anchor="middle" stroke="#000">3</text>
<rect x="1576.00" y="1143.20" width="144.10" height="30.70" fill="#f896c3"/>
<text transform="translate(1716.30 1166.50) scale(1.025 1.0)" font-size="21.0" text-anchor="end" stroke="#000">BAY-2402234</text>
<text transform="translate(1761.00 1165.50)" font-size="21.0" text-anchor="middle" stroke="#000">30</text>
<text transform="translate(1819.55 1166.25) scale(0.9 1)" font-size="21" text-anchor="middle" stroke="#000">–</text>
<text transform="translate(1878.10 1166.25) scale(0.9 1)" font-size="21" text-anchor="middle" stroke="#000">–</text>
<text transform="translate(1936.65 1166.25) scale(0.9 1)" font-size="21" text-anchor="middle" stroke="#000">–</text>
<text transform="translate(1995.20 1165.50)" font-size="21.0" text-anchor="middle" stroke="#000">30</text>
<text transform="translate(2053.75 1166.25) scale(0.9 1)" font-size="21" text-anchor="middle" stroke="#000">–</text>
<rect x="1619.70" y="1191.20" width="100.40" height="31.30" fill="#dc8cf8"/>
<text transform="translate(1716.30 1213.20)" font-size="21.0" text-anchor="end" stroke="#000">Brequinar</text>
<text transform="translate(1761.00 1211.75) scale(0.9 1)" font-size="21" text-anchor="middle" stroke="#000">–</text>
<text transform="translate(1819.55 1211.60)" font-size="21.0" text-anchor="middle" stroke="#000">30</text>
<text transform="translate(1878.10 1211.75) scale(0.9 1)" font-size="21" text-anchor="middle" stroke="#000">–</text>
<text transform="translate(1936.65 1211.75) scale(0.9 1)" font-size="21" text-anchor="middle" stroke="#000">–</text>
<text transform="translate(1995.20 1211.75) scale(0.9 1)" font-size="21" text-anchor="middle" stroke="#000">–</text>
<text transform="translate(2053.75 1211.60)" font-size="21.0" text-anchor="middle" stroke="#000">30</text>
<text transform="translate(2120.50 1136.40) rotate(-90) scale(1.0 1.1)" font-size="20.6" text-anchor="middle" stroke="#000">DMSO</text>
<text transform="translate(1631.00 648.60) scale(1.1 1.0)" font-size="32.0" font-weight="bold" stroke="#000" style="stroke-width:0.8px">f</text>
</svg></body></html>
